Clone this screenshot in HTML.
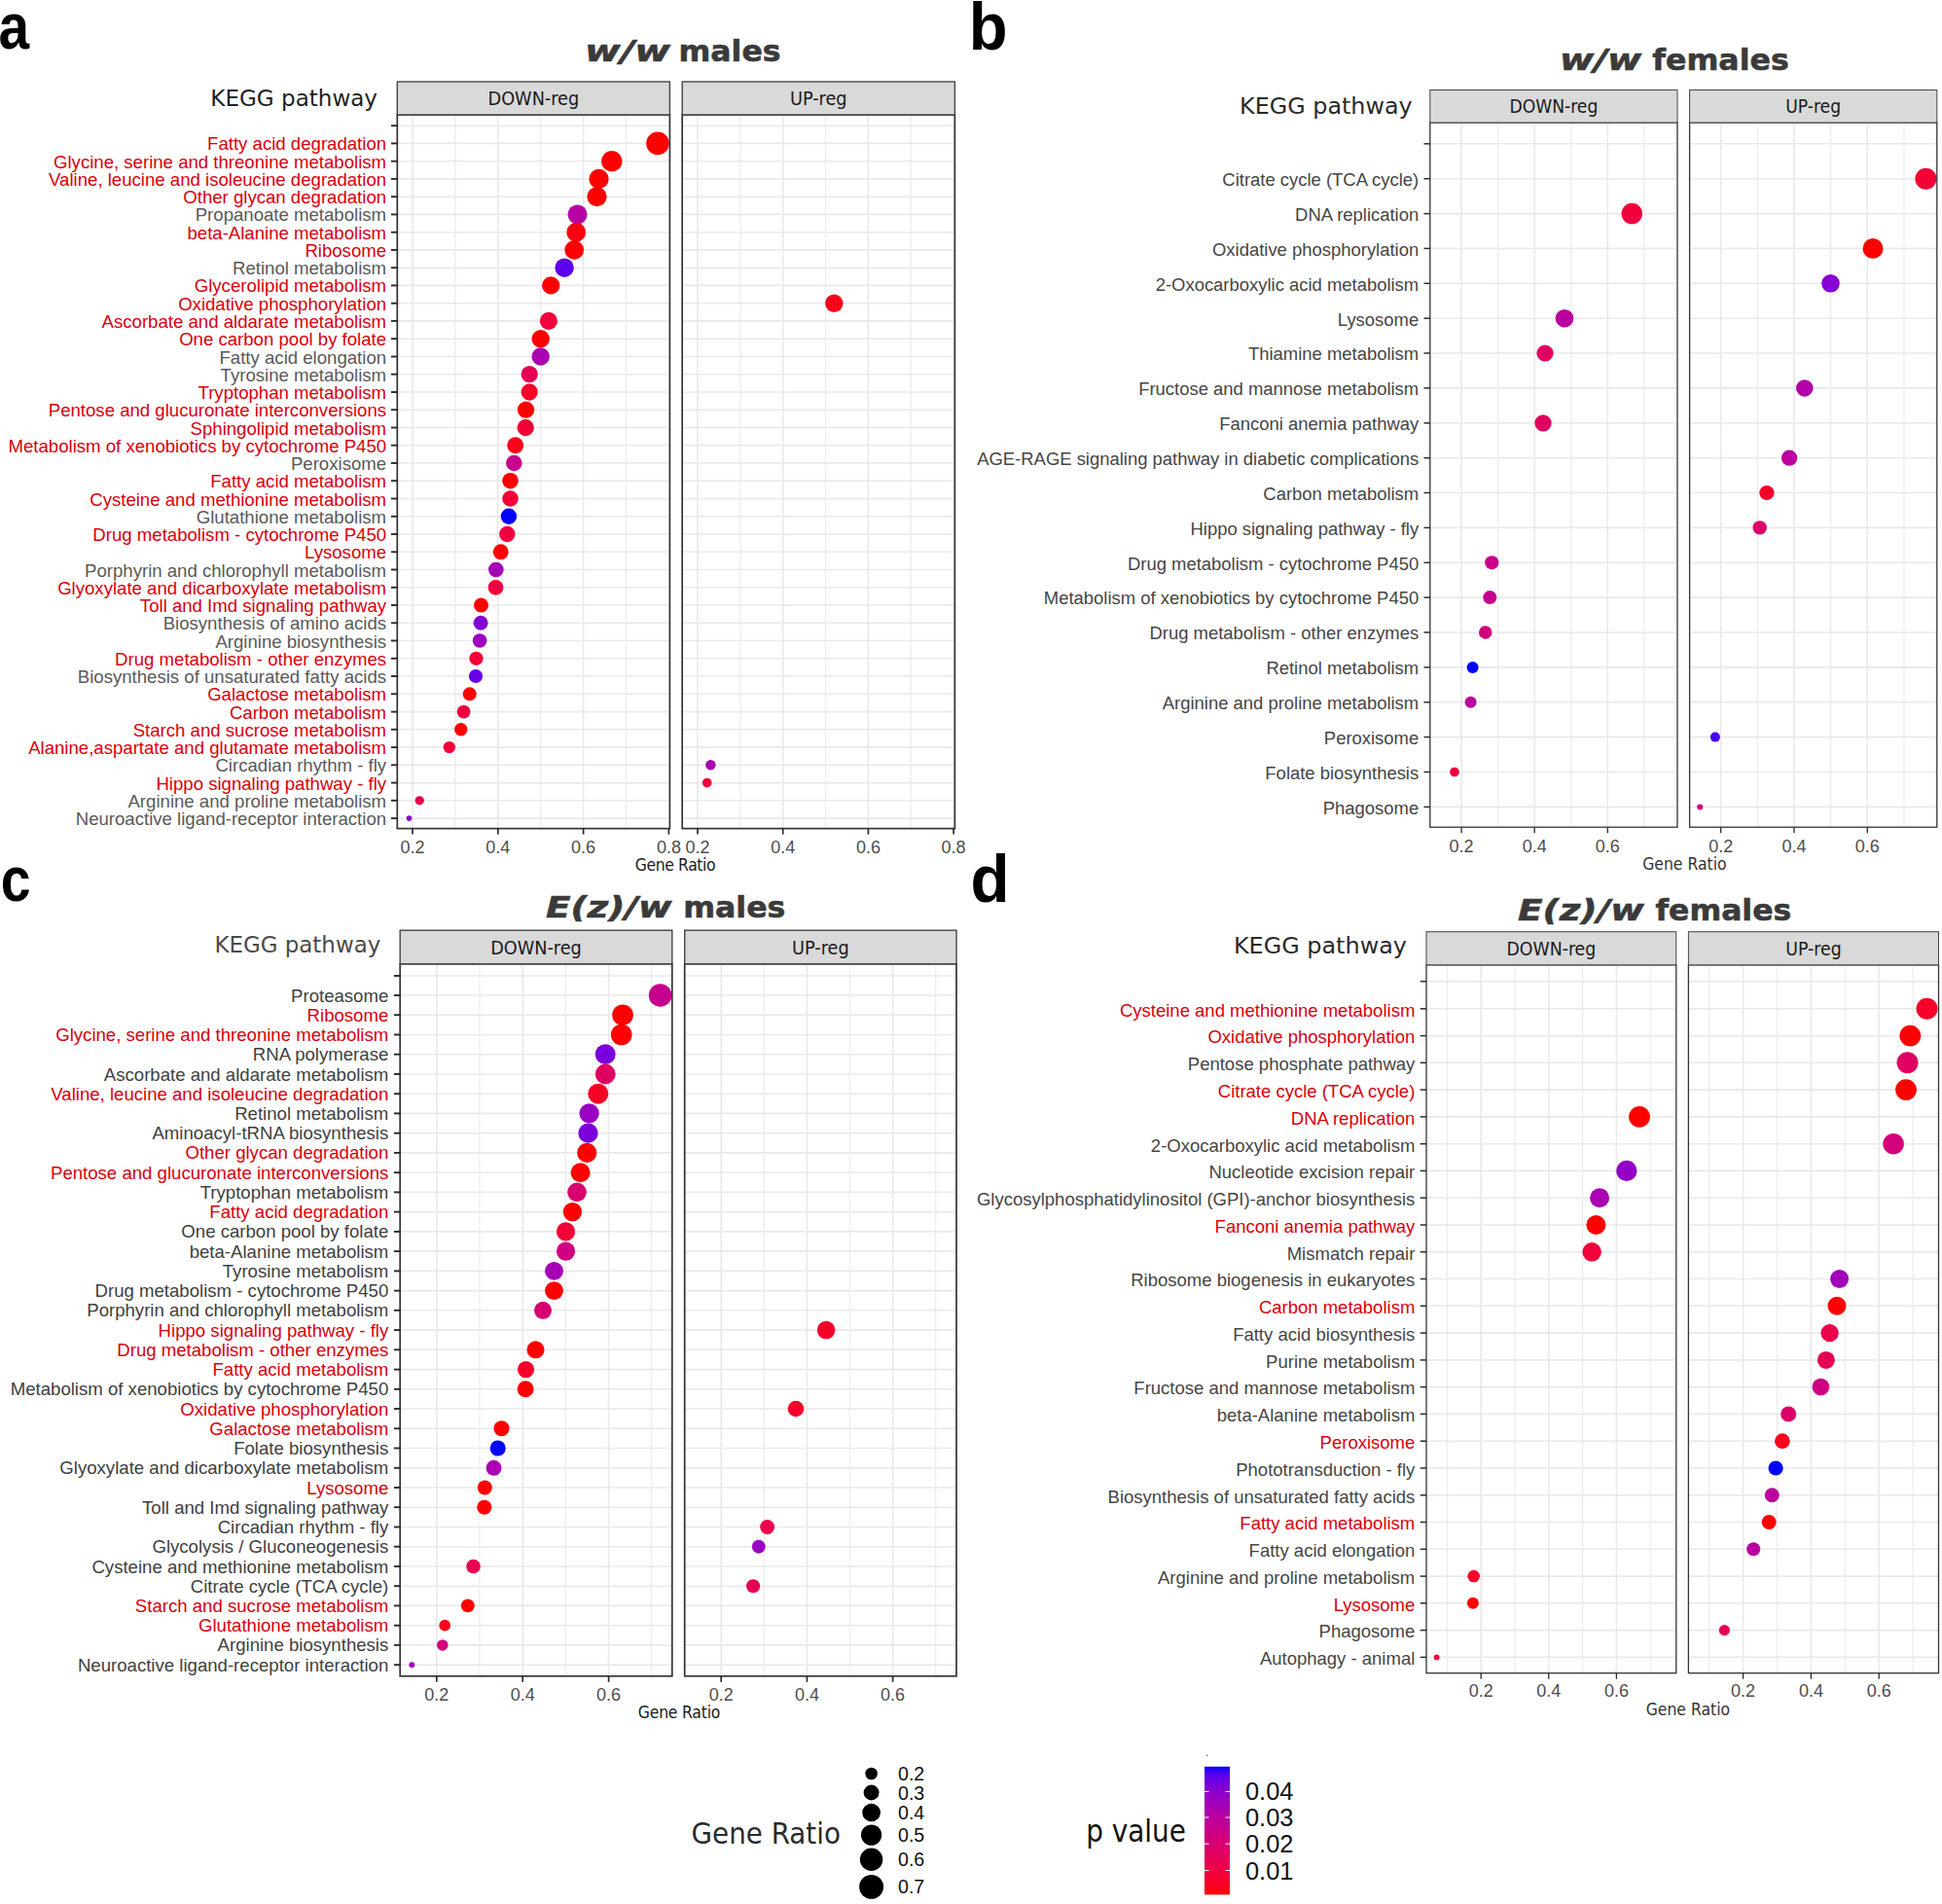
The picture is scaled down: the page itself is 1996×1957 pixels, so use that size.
<!DOCTYPE html>
<html><head><meta charset="utf-8"><title>KEGG pathway enrichment</title>
<style>html,body{margin:0;padding:0;background:#fff}svg{display:block}</style></head>
<body><svg width="1996" height="1957" viewBox="0 0 1996 1957">
<rect width="1996" height="1957" fill="#fff"/>
<rect x="408.3" y="118" width="280.1" height="733.6" fill="#fff"/>
<line x1="467.9" x2="467.9" y1="118" y2="851.6" stroke="#ececec" stroke-width="1.2"/>
<line x1="555.7" x2="555.7" y1="118" y2="851.6" stroke="#ececec" stroke-width="1.2"/>
<line x1="643.5" x2="643.5" y1="118" y2="851.6" stroke="#ececec" stroke-width="1.2"/>
<line x1="424.0" x2="424.0" y1="118" y2="851.6" stroke="#e9e9e9" stroke-width="1.6"/>
<line x1="511.8" x2="511.8" y1="118" y2="851.6" stroke="#e9e9e9" stroke-width="1.6"/>
<line x1="599.6" x2="599.6" y1="118" y2="851.6" stroke="#e9e9e9" stroke-width="1.6"/>
<line x1="408.3" x2="688.4" y1="129.2" y2="129.2" stroke="#e9e9e9" stroke-width="1.6"/>
<line x1="408.3" x2="688.4" y1="147.4" y2="147.4" stroke="#e9e9e9" stroke-width="1.6"/>
<line x1="408.3" x2="688.4" y1="165.7" y2="165.7" stroke="#e9e9e9" stroke-width="1.6"/>
<line x1="408.3" x2="688.4" y1="183.9" y2="183.9" stroke="#e9e9e9" stroke-width="1.6"/>
<line x1="408.3" x2="688.4" y1="202.2" y2="202.2" stroke="#e9e9e9" stroke-width="1.6"/>
<line x1="408.3" x2="688.4" y1="220.4" y2="220.4" stroke="#e9e9e9" stroke-width="1.6"/>
<line x1="408.3" x2="688.4" y1="238.7" y2="238.7" stroke="#e9e9e9" stroke-width="1.6"/>
<line x1="408.3" x2="688.4" y1="256.9" y2="256.9" stroke="#e9e9e9" stroke-width="1.6"/>
<line x1="408.3" x2="688.4" y1="275.2" y2="275.2" stroke="#e9e9e9" stroke-width="1.6"/>
<line x1="408.3" x2="688.4" y1="293.4" y2="293.4" stroke="#e9e9e9" stroke-width="1.6"/>
<line x1="408.3" x2="688.4" y1="311.7" y2="311.7" stroke="#e9e9e9" stroke-width="1.6"/>
<line x1="408.3" x2="688.4" y1="329.9" y2="329.9" stroke="#e9e9e9" stroke-width="1.6"/>
<line x1="408.3" x2="688.4" y1="348.2" y2="348.2" stroke="#e9e9e9" stroke-width="1.6"/>
<line x1="408.3" x2="688.4" y1="366.5" y2="366.5" stroke="#e9e9e9" stroke-width="1.6"/>
<line x1="408.3" x2="688.4" y1="384.7" y2="384.7" stroke="#e9e9e9" stroke-width="1.6"/>
<line x1="408.3" x2="688.4" y1="403.0" y2="403.0" stroke="#e9e9e9" stroke-width="1.6"/>
<line x1="408.3" x2="688.4" y1="421.2" y2="421.2" stroke="#e9e9e9" stroke-width="1.6"/>
<line x1="408.3" x2="688.4" y1="439.5" y2="439.5" stroke="#e9e9e9" stroke-width="1.6"/>
<line x1="408.3" x2="688.4" y1="457.7" y2="457.7" stroke="#e9e9e9" stroke-width="1.6"/>
<line x1="408.3" x2="688.4" y1="476.0" y2="476.0" stroke="#e9e9e9" stroke-width="1.6"/>
<line x1="408.3" x2="688.4" y1="494.2" y2="494.2" stroke="#e9e9e9" stroke-width="1.6"/>
<line x1="408.3" x2="688.4" y1="512.5" y2="512.5" stroke="#e9e9e9" stroke-width="1.6"/>
<line x1="408.3" x2="688.4" y1="530.8" y2="530.8" stroke="#e9e9e9" stroke-width="1.6"/>
<line x1="408.3" x2="688.4" y1="549.0" y2="549.0" stroke="#e9e9e9" stroke-width="1.6"/>
<line x1="408.3" x2="688.4" y1="567.3" y2="567.3" stroke="#e9e9e9" stroke-width="1.6"/>
<line x1="408.3" x2="688.4" y1="585.5" y2="585.5" stroke="#e9e9e9" stroke-width="1.6"/>
<line x1="408.3" x2="688.4" y1="603.8" y2="603.8" stroke="#e9e9e9" stroke-width="1.6"/>
<line x1="408.3" x2="688.4" y1="622.0" y2="622.0" stroke="#e9e9e9" stroke-width="1.6"/>
<line x1="408.3" x2="688.4" y1="640.3" y2="640.3" stroke="#e9e9e9" stroke-width="1.6"/>
<line x1="408.3" x2="688.4" y1="658.5" y2="658.5" stroke="#e9e9e9" stroke-width="1.6"/>
<line x1="408.3" x2="688.4" y1="676.8" y2="676.8" stroke="#e9e9e9" stroke-width="1.6"/>
<line x1="408.3" x2="688.4" y1="695.0" y2="695.0" stroke="#e9e9e9" stroke-width="1.6"/>
<line x1="408.3" x2="688.4" y1="713.3" y2="713.3" stroke="#e9e9e9" stroke-width="1.6"/>
<line x1="408.3" x2="688.4" y1="731.6" y2="731.6" stroke="#e9e9e9" stroke-width="1.6"/>
<line x1="408.3" x2="688.4" y1="749.8" y2="749.8" stroke="#e9e9e9" stroke-width="1.6"/>
<line x1="408.3" x2="688.4" y1="768.1" y2="768.1" stroke="#e9e9e9" stroke-width="1.6"/>
<line x1="408.3" x2="688.4" y1="786.3" y2="786.3" stroke="#e9e9e9" stroke-width="1.6"/>
<line x1="408.3" x2="688.4" y1="804.6" y2="804.6" stroke="#e9e9e9" stroke-width="1.6"/>
<line x1="408.3" x2="688.4" y1="822.8" y2="822.8" stroke="#e9e9e9" stroke-width="1.6"/>
<line x1="408.3" x2="688.4" y1="841.1" y2="841.1" stroke="#e9e9e9" stroke-width="1.6"/>
<rect x="701.2" y="118" width="280.2" height="733.6" fill="#fff"/>
<line x1="760.9" x2="760.9" y1="118" y2="851.6" stroke="#ececec" stroke-width="1.2"/>
<line x1="848.5" x2="848.5" y1="118" y2="851.6" stroke="#ececec" stroke-width="1.2"/>
<line x1="936.2" x2="936.2" y1="118" y2="851.6" stroke="#ececec" stroke-width="1.2"/>
<line x1="717.0" x2="717.0" y1="118" y2="851.6" stroke="#e9e9e9" stroke-width="1.6"/>
<line x1="804.7" x2="804.7" y1="118" y2="851.6" stroke="#e9e9e9" stroke-width="1.6"/>
<line x1="892.4" x2="892.4" y1="118" y2="851.6" stroke="#e9e9e9" stroke-width="1.6"/>
<line x1="980.1" x2="980.1" y1="118" y2="851.6" stroke="#e9e9e9" stroke-width="1.6"/>
<line x1="701.2" x2="981.4" y1="129.2" y2="129.2" stroke="#e9e9e9" stroke-width="1.6"/>
<line x1="701.2" x2="981.4" y1="147.4" y2="147.4" stroke="#e9e9e9" stroke-width="1.6"/>
<line x1="701.2" x2="981.4" y1="165.7" y2="165.7" stroke="#e9e9e9" stroke-width="1.6"/>
<line x1="701.2" x2="981.4" y1="183.9" y2="183.9" stroke="#e9e9e9" stroke-width="1.6"/>
<line x1="701.2" x2="981.4" y1="202.2" y2="202.2" stroke="#e9e9e9" stroke-width="1.6"/>
<line x1="701.2" x2="981.4" y1="220.4" y2="220.4" stroke="#e9e9e9" stroke-width="1.6"/>
<line x1="701.2" x2="981.4" y1="238.7" y2="238.7" stroke="#e9e9e9" stroke-width="1.6"/>
<line x1="701.2" x2="981.4" y1="256.9" y2="256.9" stroke="#e9e9e9" stroke-width="1.6"/>
<line x1="701.2" x2="981.4" y1="275.2" y2="275.2" stroke="#e9e9e9" stroke-width="1.6"/>
<line x1="701.2" x2="981.4" y1="293.4" y2="293.4" stroke="#e9e9e9" stroke-width="1.6"/>
<line x1="701.2" x2="981.4" y1="311.7" y2="311.7" stroke="#e9e9e9" stroke-width="1.6"/>
<line x1="701.2" x2="981.4" y1="329.9" y2="329.9" stroke="#e9e9e9" stroke-width="1.6"/>
<line x1="701.2" x2="981.4" y1="348.2" y2="348.2" stroke="#e9e9e9" stroke-width="1.6"/>
<line x1="701.2" x2="981.4" y1="366.5" y2="366.5" stroke="#e9e9e9" stroke-width="1.6"/>
<line x1="701.2" x2="981.4" y1="384.7" y2="384.7" stroke="#e9e9e9" stroke-width="1.6"/>
<line x1="701.2" x2="981.4" y1="403.0" y2="403.0" stroke="#e9e9e9" stroke-width="1.6"/>
<line x1="701.2" x2="981.4" y1="421.2" y2="421.2" stroke="#e9e9e9" stroke-width="1.6"/>
<line x1="701.2" x2="981.4" y1="439.5" y2="439.5" stroke="#e9e9e9" stroke-width="1.6"/>
<line x1="701.2" x2="981.4" y1="457.7" y2="457.7" stroke="#e9e9e9" stroke-width="1.6"/>
<line x1="701.2" x2="981.4" y1="476.0" y2="476.0" stroke="#e9e9e9" stroke-width="1.6"/>
<line x1="701.2" x2="981.4" y1="494.2" y2="494.2" stroke="#e9e9e9" stroke-width="1.6"/>
<line x1="701.2" x2="981.4" y1="512.5" y2="512.5" stroke="#e9e9e9" stroke-width="1.6"/>
<line x1="701.2" x2="981.4" y1="530.8" y2="530.8" stroke="#e9e9e9" stroke-width="1.6"/>
<line x1="701.2" x2="981.4" y1="549.0" y2="549.0" stroke="#e9e9e9" stroke-width="1.6"/>
<line x1="701.2" x2="981.4" y1="567.3" y2="567.3" stroke="#e9e9e9" stroke-width="1.6"/>
<line x1="701.2" x2="981.4" y1="585.5" y2="585.5" stroke="#e9e9e9" stroke-width="1.6"/>
<line x1="701.2" x2="981.4" y1="603.8" y2="603.8" stroke="#e9e9e9" stroke-width="1.6"/>
<line x1="701.2" x2="981.4" y1="622.0" y2="622.0" stroke="#e9e9e9" stroke-width="1.6"/>
<line x1="701.2" x2="981.4" y1="640.3" y2="640.3" stroke="#e9e9e9" stroke-width="1.6"/>
<line x1="701.2" x2="981.4" y1="658.5" y2="658.5" stroke="#e9e9e9" stroke-width="1.6"/>
<line x1="701.2" x2="981.4" y1="676.8" y2="676.8" stroke="#e9e9e9" stroke-width="1.6"/>
<line x1="701.2" x2="981.4" y1="695.0" y2="695.0" stroke="#e9e9e9" stroke-width="1.6"/>
<line x1="701.2" x2="981.4" y1="713.3" y2="713.3" stroke="#e9e9e9" stroke-width="1.6"/>
<line x1="701.2" x2="981.4" y1="731.6" y2="731.6" stroke="#e9e9e9" stroke-width="1.6"/>
<line x1="701.2" x2="981.4" y1="749.8" y2="749.8" stroke="#e9e9e9" stroke-width="1.6"/>
<line x1="701.2" x2="981.4" y1="768.1" y2="768.1" stroke="#e9e9e9" stroke-width="1.6"/>
<line x1="701.2" x2="981.4" y1="786.3" y2="786.3" stroke="#e9e9e9" stroke-width="1.6"/>
<line x1="701.2" x2="981.4" y1="804.6" y2="804.6" stroke="#e9e9e9" stroke-width="1.6"/>
<line x1="701.2" x2="981.4" y1="822.8" y2="822.8" stroke="#e9e9e9" stroke-width="1.6"/>
<line x1="701.2" x2="981.4" y1="841.1" y2="841.1" stroke="#e9e9e9" stroke-width="1.6"/>
<circle cx="676.0" cy="147.4" r="11.80" fill="#ff0000"/>
<circle cx="628.8" cy="165.7" r="10.65" fill="#ff0000"/>
<circle cx="615.5" cy="183.9" r="10.15" fill="#ff0000"/>
<circle cx="613.5" cy="202.2" r="10.10" fill="#ff0000"/>
<circle cx="593.5" cy="220.4" r="10.00" fill="#b600a4"/>
<circle cx="592.2" cy="238.7" r="9.85" fill="#fc0012"/>
<circle cx="590.2" cy="256.9" r="9.85" fill="#ff0000"/>
<circle cx="580.1" cy="275.2" r="9.70" fill="#5e00eb"/>
<circle cx="566.2" cy="293.4" r="9.15" fill="#ff0000"/>
<circle cx="857.3" cy="311.7" r="9.25" fill="#fb001a"/>
<circle cx="563.9" cy="329.9" r="9.05" fill="#f0003c"/>
<circle cx="555.7" cy="348.2" r="9.15" fill="#ff0000"/>
<circle cx="555.7" cy="366.5" r="9.15" fill="#aa00b2"/>
<circle cx="544.2" cy="384.7" r="8.65" fill="#e50056"/>
<circle cx="544.2" cy="403.0" r="8.65" fill="#f6002a"/>
<circle cx="540.5" cy="421.2" r="8.60" fill="#ff0000"/>
<circle cx="540.2" cy="439.5" r="8.65" fill="#f20037"/>
<circle cx="529.7" cy="457.7" r="8.50" fill="#fb001a"/>
<circle cx="528.3" cy="476.0" r="8.25" fill="#c5008f"/>
<circle cx="524.5" cy="494.2" r="8.25" fill="#ff0000"/>
<circle cx="524.5" cy="512.5" r="8.25" fill="#f20037"/>
<circle cx="522.9" cy="530.8" r="8.20" fill="#0000ff"/>
<circle cx="521.3" cy="549.0" r="8.20" fill="#ef003f"/>
<circle cx="514.7" cy="567.3" r="7.95" fill="#ff0000"/>
<circle cx="509.8" cy="585.5" r="7.80" fill="#a600b7"/>
<circle cx="509.5" cy="603.8" r="7.85" fill="#ef003f"/>
<circle cx="494.5" cy="622.0" r="7.50" fill="#ff0000"/>
<circle cx="494.1" cy="640.3" r="7.50" fill="#8300d6"/>
<circle cx="493.1" cy="658.5" r="7.25" fill="#9d00c0"/>
<circle cx="489.5" cy="676.8" r="7.15" fill="#f20037"/>
<circle cx="489.0" cy="695.0" r="7.10" fill="#6800e7"/>
<circle cx="482.7" cy="713.3" r="6.95" fill="#ff0000"/>
<circle cx="476.6" cy="731.6" r="6.85" fill="#ef003f"/>
<circle cx="473.7" cy="749.8" r="6.70" fill="#ff0000"/>
<circle cx="461.8" cy="768.1" r="6.20" fill="#f20037"/>
<circle cx="730.4" cy="786.3" r="5.20" fill="#aa00b2"/>
<circle cx="726.7" cy="804.6" r="4.85" fill="#f0003c"/>
<circle cx="431.2" cy="822.8" r="4.65" fill="#eb0049"/>
<circle cx="420.5" cy="841.1" r="2.80" fill="#8d00ce"/>
<rect x="408.3" y="118" width="280.1" height="733.6" fill="none" stroke="#333" stroke-width="1.7"/>
<rect x="408.3" y="84" width="280.1" height="34.0" fill="#d9d9d9" stroke="#444" stroke-width="1.4"/>
<text x="548.4" y="108.0" text-anchor="middle" font-family="DejaVu Sans Condensed, DejaVu Sans, Tahoma, sans-serif" font-size="19.7" fill="#1a1a1a">DOWN-reg</text>
<line x1="424.0" x2="424.0" y1="851.6" y2="857.6" stroke="#2a2a2a" stroke-width="1.7"/>
<text x="424.0" y="876.5" text-anchor="middle" font-family="Liberation Sans, Arial, sans-serif" font-size="18" fill="#4d4d4d">0.2</text>
<line x1="511.8" x2="511.8" y1="851.6" y2="857.6" stroke="#2a2a2a" stroke-width="1.7"/>
<text x="511.8" y="876.5" text-anchor="middle" font-family="Liberation Sans, Arial, sans-serif" font-size="18" fill="#4d4d4d">0.4</text>
<line x1="599.6" x2="599.6" y1="851.6" y2="857.6" stroke="#2a2a2a" stroke-width="1.7"/>
<text x="599.6" y="876.5" text-anchor="middle" font-family="Liberation Sans, Arial, sans-serif" font-size="18" fill="#4d4d4d">0.6</text>
<line x1="687.4" x2="687.4" y1="851.6" y2="857.6" stroke="#2a2a2a" stroke-width="1.7"/>
<text x="687.4" y="876.5" text-anchor="middle" font-family="Liberation Sans, Arial, sans-serif" font-size="18" fill="#4d4d4d">0.8</text>
<rect x="701.2" y="118" width="280.2" height="733.6" fill="none" stroke="#333" stroke-width="1.7"/>
<rect x="701.2" y="84" width="280.2" height="34.0" fill="#d9d9d9" stroke="#444" stroke-width="1.4"/>
<text x="841.3" y="108.0" text-anchor="middle" font-family="DejaVu Sans Condensed, DejaVu Sans, Tahoma, sans-serif" font-size="19.7" fill="#1a1a1a">UP-reg</text>
<line x1="717.0" x2="717.0" y1="851.6" y2="857.6" stroke="#2a2a2a" stroke-width="1.7"/>
<text x="717.0" y="876.5" text-anchor="middle" font-family="Liberation Sans, Arial, sans-serif" font-size="18" fill="#4d4d4d">0.2</text>
<line x1="804.7" x2="804.7" y1="851.6" y2="857.6" stroke="#2a2a2a" stroke-width="1.7"/>
<text x="804.7" y="876.5" text-anchor="middle" font-family="Liberation Sans, Arial, sans-serif" font-size="18" fill="#4d4d4d">0.4</text>
<line x1="892.4" x2="892.4" y1="851.6" y2="857.6" stroke="#2a2a2a" stroke-width="1.7"/>
<text x="892.4" y="876.5" text-anchor="middle" font-family="Liberation Sans, Arial, sans-serif" font-size="18" fill="#4d4d4d">0.6</text>
<line x1="980.1" x2="980.1" y1="851.6" y2="857.6" stroke="#2a2a2a" stroke-width="1.7"/>
<text x="980.1" y="876.5" text-anchor="middle" font-family="Liberation Sans, Arial, sans-serif" font-size="18" fill="#4d4d4d">0.8</text>
<line x1="402.0" x2="408.3" y1="129.2" y2="129.2" stroke="#2a2a2a" stroke-width="1.9"/>
<line x1="402.0" x2="408.3" y1="147.4" y2="147.4" stroke="#2a2a2a" stroke-width="1.9"/>
<line x1="402.0" x2="408.3" y1="165.7" y2="165.7" stroke="#2a2a2a" stroke-width="1.9"/>
<line x1="402.0" x2="408.3" y1="183.9" y2="183.9" stroke="#2a2a2a" stroke-width="1.9"/>
<line x1="402.0" x2="408.3" y1="202.2" y2="202.2" stroke="#2a2a2a" stroke-width="1.9"/>
<line x1="402.0" x2="408.3" y1="220.4" y2="220.4" stroke="#2a2a2a" stroke-width="1.9"/>
<line x1="402.0" x2="408.3" y1="238.7" y2="238.7" stroke="#2a2a2a" stroke-width="1.9"/>
<line x1="402.0" x2="408.3" y1="256.9" y2="256.9" stroke="#2a2a2a" stroke-width="1.9"/>
<line x1="402.0" x2="408.3" y1="275.2" y2="275.2" stroke="#2a2a2a" stroke-width="1.9"/>
<line x1="402.0" x2="408.3" y1="293.4" y2="293.4" stroke="#2a2a2a" stroke-width="1.9"/>
<line x1="402.0" x2="408.3" y1="311.7" y2="311.7" stroke="#2a2a2a" stroke-width="1.9"/>
<line x1="402.0" x2="408.3" y1="329.9" y2="329.9" stroke="#2a2a2a" stroke-width="1.9"/>
<line x1="402.0" x2="408.3" y1="348.2" y2="348.2" stroke="#2a2a2a" stroke-width="1.9"/>
<line x1="402.0" x2="408.3" y1="366.5" y2="366.5" stroke="#2a2a2a" stroke-width="1.9"/>
<line x1="402.0" x2="408.3" y1="384.7" y2="384.7" stroke="#2a2a2a" stroke-width="1.9"/>
<line x1="402.0" x2="408.3" y1="403.0" y2="403.0" stroke="#2a2a2a" stroke-width="1.9"/>
<line x1="402.0" x2="408.3" y1="421.2" y2="421.2" stroke="#2a2a2a" stroke-width="1.9"/>
<line x1="402.0" x2="408.3" y1="439.5" y2="439.5" stroke="#2a2a2a" stroke-width="1.9"/>
<line x1="402.0" x2="408.3" y1="457.7" y2="457.7" stroke="#2a2a2a" stroke-width="1.9"/>
<line x1="402.0" x2="408.3" y1="476.0" y2="476.0" stroke="#2a2a2a" stroke-width="1.9"/>
<line x1="402.0" x2="408.3" y1="494.2" y2="494.2" stroke="#2a2a2a" stroke-width="1.9"/>
<line x1="402.0" x2="408.3" y1="512.5" y2="512.5" stroke="#2a2a2a" stroke-width="1.9"/>
<line x1="402.0" x2="408.3" y1="530.8" y2="530.8" stroke="#2a2a2a" stroke-width="1.9"/>
<line x1="402.0" x2="408.3" y1="549.0" y2="549.0" stroke="#2a2a2a" stroke-width="1.9"/>
<line x1="402.0" x2="408.3" y1="567.3" y2="567.3" stroke="#2a2a2a" stroke-width="1.9"/>
<line x1="402.0" x2="408.3" y1="585.5" y2="585.5" stroke="#2a2a2a" stroke-width="1.9"/>
<line x1="402.0" x2="408.3" y1="603.8" y2="603.8" stroke="#2a2a2a" stroke-width="1.9"/>
<line x1="402.0" x2="408.3" y1="622.0" y2="622.0" stroke="#2a2a2a" stroke-width="1.9"/>
<line x1="402.0" x2="408.3" y1="640.3" y2="640.3" stroke="#2a2a2a" stroke-width="1.9"/>
<line x1="402.0" x2="408.3" y1="658.5" y2="658.5" stroke="#2a2a2a" stroke-width="1.9"/>
<line x1="402.0" x2="408.3" y1="676.8" y2="676.8" stroke="#2a2a2a" stroke-width="1.9"/>
<line x1="402.0" x2="408.3" y1="695.0" y2="695.0" stroke="#2a2a2a" stroke-width="1.9"/>
<line x1="402.0" x2="408.3" y1="713.3" y2="713.3" stroke="#2a2a2a" stroke-width="1.9"/>
<line x1="402.0" x2="408.3" y1="731.6" y2="731.6" stroke="#2a2a2a" stroke-width="1.9"/>
<line x1="402.0" x2="408.3" y1="749.8" y2="749.8" stroke="#2a2a2a" stroke-width="1.9"/>
<line x1="402.0" x2="408.3" y1="768.1" y2="768.1" stroke="#2a2a2a" stroke-width="1.9"/>
<line x1="402.0" x2="408.3" y1="786.3" y2="786.3" stroke="#2a2a2a" stroke-width="1.9"/>
<line x1="402.0" x2="408.3" y1="804.6" y2="804.6" stroke="#2a2a2a" stroke-width="1.9"/>
<line x1="402.0" x2="408.3" y1="822.8" y2="822.8" stroke="#2a2a2a" stroke-width="1.9"/>
<line x1="402.0" x2="408.3" y1="841.1" y2="841.1" stroke="#2a2a2a" stroke-width="1.9"/>
<text x="397.1" y="154.4" text-anchor="end" font-family="Liberation Sans, Arial, sans-serif" font-size="18.6" fill="#d9000d">Fatty acid degradation</text>
<text x="397.1" y="172.7" text-anchor="end" font-family="Liberation Sans, Arial, sans-serif" font-size="18.6" fill="#d9000d">Glycine, serine and threonine metabolism</text>
<text x="397.1" y="190.9" text-anchor="end" font-family="Liberation Sans, Arial, sans-serif" font-size="18.6" fill="#d9000d">Valine, leucine and isoleucine degradation</text>
<text x="397.1" y="209.2" text-anchor="end" font-family="Liberation Sans, Arial, sans-serif" font-size="18.6" fill="#d9000d">Other glycan degradation</text>
<text x="397.1" y="227.4" text-anchor="end" font-family="Liberation Sans, Arial, sans-serif" font-size="18.6" fill="#595959">Propanoate metabolism</text>
<text x="397.1" y="245.7" text-anchor="end" font-family="Liberation Sans, Arial, sans-serif" font-size="18.6" fill="#d9000d">beta-Alanine metabolism</text>
<text x="397.1" y="263.9" text-anchor="end" font-family="Liberation Sans, Arial, sans-serif" font-size="18.6" fill="#d9000d">Ribosome</text>
<text x="397.1" y="282.2" text-anchor="end" font-family="Liberation Sans, Arial, sans-serif" font-size="18.6" fill="#595959">Retinol metabolism</text>
<text x="397.1" y="300.4" text-anchor="end" font-family="Liberation Sans, Arial, sans-serif" font-size="18.6" fill="#d9000d">Glycerolipid metabolism</text>
<text x="397.1" y="318.7" text-anchor="end" font-family="Liberation Sans, Arial, sans-serif" font-size="18.6" fill="#d9000d">Oxidative phosphorylation</text>
<text x="397.1" y="336.9" text-anchor="end" font-family="Liberation Sans, Arial, sans-serif" font-size="18.6" fill="#d9000d">Ascorbate and aldarate metabolism</text>
<text x="397.1" y="355.2" text-anchor="end" font-family="Liberation Sans, Arial, sans-serif" font-size="18.6" fill="#d9000d">One carbon pool by folate</text>
<text x="397.1" y="373.5" text-anchor="end" font-family="Liberation Sans, Arial, sans-serif" font-size="18.6" fill="#595959">Fatty acid elongation</text>
<text x="397.1" y="391.7" text-anchor="end" font-family="Liberation Sans, Arial, sans-serif" font-size="18.6" fill="#595959">Tyrosine metabolism</text>
<text x="397.1" y="410.0" text-anchor="end" font-family="Liberation Sans, Arial, sans-serif" font-size="18.6" fill="#d9000d">Tryptophan metabolism</text>
<text x="397.1" y="428.2" text-anchor="end" font-family="Liberation Sans, Arial, sans-serif" font-size="18.6" fill="#d9000d">Pentose and glucuronate interconversions</text>
<text x="397.1" y="446.5" text-anchor="end" font-family="Liberation Sans, Arial, sans-serif" font-size="18.6" fill="#d9000d">Sphingolipid metabolism</text>
<text x="397.1" y="464.7" text-anchor="end" font-family="Liberation Sans, Arial, sans-serif" font-size="18.6" fill="#d9000d">Metabolism of xenobiotics by cytochrome P450</text>
<text x="397.1" y="483.0" text-anchor="end" font-family="Liberation Sans, Arial, sans-serif" font-size="18.6" fill="#595959">Peroxisome</text>
<text x="397.1" y="501.2" text-anchor="end" font-family="Liberation Sans, Arial, sans-serif" font-size="18.6" fill="#d9000d">Fatty acid metabolism</text>
<text x="397.1" y="519.5" text-anchor="end" font-family="Liberation Sans, Arial, sans-serif" font-size="18.6" fill="#d9000d">Cysteine and methionine metabolism</text>
<text x="397.1" y="537.8" text-anchor="end" font-family="Liberation Sans, Arial, sans-serif" font-size="18.6" fill="#595959">Glutathione metabolism</text>
<text x="397.1" y="556.0" text-anchor="end" font-family="Liberation Sans, Arial, sans-serif" font-size="18.6" fill="#d9000d">Drug metabolism - cytochrome P450</text>
<text x="397.1" y="574.3" text-anchor="end" font-family="Liberation Sans, Arial, sans-serif" font-size="18.6" fill="#d9000d">Lysosome</text>
<text x="397.1" y="592.5" text-anchor="end" font-family="Liberation Sans, Arial, sans-serif" font-size="18.6" fill="#595959">Porphyrin and chlorophyll metabolism</text>
<text x="397.1" y="610.8" text-anchor="end" font-family="Liberation Sans, Arial, sans-serif" font-size="18.6" fill="#d9000d">Glyoxylate and dicarboxylate metabolism</text>
<text x="397.1" y="629.0" text-anchor="end" font-family="Liberation Sans, Arial, sans-serif" font-size="18.6" fill="#d9000d">Toll and Imd signaling pathway</text>
<text x="397.1" y="647.3" text-anchor="end" font-family="Liberation Sans, Arial, sans-serif" font-size="18.6" fill="#595959">Biosynthesis of amino acids</text>
<text x="397.1" y="665.5" text-anchor="end" font-family="Liberation Sans, Arial, sans-serif" font-size="18.6" fill="#595959">Arginine biosynthesis</text>
<text x="397.1" y="683.8" text-anchor="end" font-family="Liberation Sans, Arial, sans-serif" font-size="18.6" fill="#d9000d">Drug metabolism - other enzymes</text>
<text x="397.1" y="702.0" text-anchor="end" font-family="Liberation Sans, Arial, sans-serif" font-size="18.6" fill="#595959">Biosynthesis of unsaturated fatty acids</text>
<text x="397.1" y="720.3" text-anchor="end" font-family="Liberation Sans, Arial, sans-serif" font-size="18.6" fill="#d9000d">Galactose metabolism</text>
<text x="397.1" y="738.6" text-anchor="end" font-family="Liberation Sans, Arial, sans-serif" font-size="18.6" fill="#d9000d">Carbon metabolism</text>
<text x="397.1" y="756.8" text-anchor="end" font-family="Liberation Sans, Arial, sans-serif" font-size="18.6" fill="#d9000d">Starch and sucrose metabolism</text>
<text x="397.1" y="775.1" text-anchor="end" font-family="Liberation Sans, Arial, sans-serif" font-size="18.6" fill="#d9000d">Alanine,aspartate and glutamate metabolism</text>
<text x="397.1" y="793.3" text-anchor="end" font-family="Liberation Sans, Arial, sans-serif" font-size="18.6" fill="#595959">Circadian rhythm - fly</text>
<text x="397.1" y="811.6" text-anchor="end" font-family="Liberation Sans, Arial, sans-serif" font-size="18.6" fill="#d9000d">Hippo signaling pathway - fly</text>
<text x="397.1" y="829.8" text-anchor="end" font-family="Liberation Sans, Arial, sans-serif" font-size="18.6" fill="#595959">Arginine and proline metabolism</text>
<text x="397.1" y="848.1" text-anchor="end" font-family="Liberation Sans, Arial, sans-serif" font-size="18.6" fill="#595959">Neuroactive ligand-receptor interaction</text>
<text x="694" y="894.8" text-anchor="middle" font-family="DejaVu Sans Condensed, DejaVu Sans, Tahoma, sans-serif" font-size="17.4" fill="#1a1a1a" letter-spacing="-0.4">Gene Ratio</text>
<text x="216.3" y="109.4" font-family="DejaVu Sans, Verdana, sans-serif" font-size="23" textLength="171.7" lengthAdjust="spacingAndGlyphs" fill="#1f1f1f">KEGG pathway</text>
<text x="600.9" y="62.5" font-family="DejaVu Sans, Verdana, sans-serif" font-size="31" font-weight="bold" font-style="italic" textLength="88.1" lengthAdjust="spacingAndGlyphs" fill="#3a3a3a" stroke="#3a3a3a" stroke-width="0.6">w/w</text>
<text x="697.5" y="62.5" font-family="DejaVu Sans, Verdana, sans-serif" font-size="31" font-weight="bold" textLength="105.0" lengthAdjust="spacingAndGlyphs" fill="#3a3a3a" stroke="#3a3a3a" stroke-width="0.6">males</text>
<text transform="translate(-1.4,50.3) scale(0.86,1)" x="0" y="0" font-family="Liberation Sans, Arial, sans-serif" font-size="66.1" font-weight="bold" fill="#000">a</text>
<rect x="1469.8" y="126" width="254.2" height="724.2" fill="#fff"/>
<line x1="1539.7" x2="1539.7" y1="126" y2="850.2" stroke="#ececec" stroke-width="1.2"/>
<line x1="1614.8" x2="1614.8" y1="126" y2="850.2" stroke="#ececec" stroke-width="1.2"/>
<line x1="1689.9" x2="1689.9" y1="126" y2="850.2" stroke="#ececec" stroke-width="1.2"/>
<line x1="1502.1" x2="1502.1" y1="126" y2="850.2" stroke="#e9e9e9" stroke-width="1.6"/>
<line x1="1577.2" x2="1577.2" y1="126" y2="850.2" stroke="#e9e9e9" stroke-width="1.6"/>
<line x1="1652.3" x2="1652.3" y1="126" y2="850.2" stroke="#e9e9e9" stroke-width="1.6"/>
<line x1="1469.8" x2="1724" y1="147.8" y2="147.8" stroke="#e9e9e9" stroke-width="1.6"/>
<line x1="1469.8" x2="1724" y1="183.7" y2="183.7" stroke="#e9e9e9" stroke-width="1.6"/>
<line x1="1469.8" x2="1724" y1="219.6" y2="219.6" stroke="#e9e9e9" stroke-width="1.6"/>
<line x1="1469.8" x2="1724" y1="255.4" y2="255.4" stroke="#e9e9e9" stroke-width="1.6"/>
<line x1="1469.8" x2="1724" y1="291.3" y2="291.3" stroke="#e9e9e9" stroke-width="1.6"/>
<line x1="1469.8" x2="1724" y1="327.2" y2="327.2" stroke="#e9e9e9" stroke-width="1.6"/>
<line x1="1469.8" x2="1724" y1="363.0" y2="363.0" stroke="#e9e9e9" stroke-width="1.6"/>
<line x1="1469.8" x2="1724" y1="398.9" y2="398.9" stroke="#e9e9e9" stroke-width="1.6"/>
<line x1="1469.8" x2="1724" y1="434.8" y2="434.8" stroke="#e9e9e9" stroke-width="1.6"/>
<line x1="1469.8" x2="1724" y1="470.7" y2="470.7" stroke="#e9e9e9" stroke-width="1.6"/>
<line x1="1469.8" x2="1724" y1="506.5" y2="506.5" stroke="#e9e9e9" stroke-width="1.6"/>
<line x1="1469.8" x2="1724" y1="542.4" y2="542.4" stroke="#e9e9e9" stroke-width="1.6"/>
<line x1="1469.8" x2="1724" y1="578.3" y2="578.3" stroke="#e9e9e9" stroke-width="1.6"/>
<line x1="1469.8" x2="1724" y1="614.1" y2="614.1" stroke="#e9e9e9" stroke-width="1.6"/>
<line x1="1469.8" x2="1724" y1="650.0" y2="650.0" stroke="#e9e9e9" stroke-width="1.6"/>
<line x1="1469.8" x2="1724" y1="685.9" y2="685.9" stroke="#e9e9e9" stroke-width="1.6"/>
<line x1="1469.8" x2="1724" y1="721.8" y2="721.8" stroke="#e9e9e9" stroke-width="1.6"/>
<line x1="1469.8" x2="1724" y1="757.6" y2="757.6" stroke="#e9e9e9" stroke-width="1.6"/>
<line x1="1469.8" x2="1724" y1="793.5" y2="793.5" stroke="#e9e9e9" stroke-width="1.6"/>
<line x1="1469.8" x2="1724" y1="829.4" y2="829.4" stroke="#e9e9e9" stroke-width="1.6"/>
<rect x="1736.6" y="126" width="254.2" height="724.2" fill="#fff"/>
<line x1="1806.4" x2="1806.4" y1="126" y2="850.2" stroke="#ececec" stroke-width="1.2"/>
<line x1="1881.7" x2="1881.7" y1="126" y2="850.2" stroke="#ececec" stroke-width="1.2"/>
<line x1="1957.0" x2="1957.0" y1="126" y2="850.2" stroke="#ececec" stroke-width="1.2"/>
<line x1="1768.7" x2="1768.7" y1="126" y2="850.2" stroke="#e9e9e9" stroke-width="1.6"/>
<line x1="1844.0" x2="1844.0" y1="126" y2="850.2" stroke="#e9e9e9" stroke-width="1.6"/>
<line x1="1919.3" x2="1919.3" y1="126" y2="850.2" stroke="#e9e9e9" stroke-width="1.6"/>
<line x1="1736.6" x2="1990.8" y1="147.8" y2="147.8" stroke="#e9e9e9" stroke-width="1.6"/>
<line x1="1736.6" x2="1990.8" y1="183.7" y2="183.7" stroke="#e9e9e9" stroke-width="1.6"/>
<line x1="1736.6" x2="1990.8" y1="219.6" y2="219.6" stroke="#e9e9e9" stroke-width="1.6"/>
<line x1="1736.6" x2="1990.8" y1="255.4" y2="255.4" stroke="#e9e9e9" stroke-width="1.6"/>
<line x1="1736.6" x2="1990.8" y1="291.3" y2="291.3" stroke="#e9e9e9" stroke-width="1.6"/>
<line x1="1736.6" x2="1990.8" y1="327.2" y2="327.2" stroke="#e9e9e9" stroke-width="1.6"/>
<line x1="1736.6" x2="1990.8" y1="363.0" y2="363.0" stroke="#e9e9e9" stroke-width="1.6"/>
<line x1="1736.6" x2="1990.8" y1="398.9" y2="398.9" stroke="#e9e9e9" stroke-width="1.6"/>
<line x1="1736.6" x2="1990.8" y1="434.8" y2="434.8" stroke="#e9e9e9" stroke-width="1.6"/>
<line x1="1736.6" x2="1990.8" y1="470.7" y2="470.7" stroke="#e9e9e9" stroke-width="1.6"/>
<line x1="1736.6" x2="1990.8" y1="506.5" y2="506.5" stroke="#e9e9e9" stroke-width="1.6"/>
<line x1="1736.6" x2="1990.8" y1="542.4" y2="542.4" stroke="#e9e9e9" stroke-width="1.6"/>
<line x1="1736.6" x2="1990.8" y1="578.3" y2="578.3" stroke="#e9e9e9" stroke-width="1.6"/>
<line x1="1736.6" x2="1990.8" y1="614.1" y2="614.1" stroke="#e9e9e9" stroke-width="1.6"/>
<line x1="1736.6" x2="1990.8" y1="650.0" y2="650.0" stroke="#e9e9e9" stroke-width="1.6"/>
<line x1="1736.6" x2="1990.8" y1="685.9" y2="685.9" stroke="#e9e9e9" stroke-width="1.6"/>
<line x1="1736.6" x2="1990.8" y1="721.8" y2="721.8" stroke="#e9e9e9" stroke-width="1.6"/>
<line x1="1736.6" x2="1990.8" y1="757.6" y2="757.6" stroke="#e9e9e9" stroke-width="1.6"/>
<line x1="1736.6" x2="1990.8" y1="793.5" y2="793.5" stroke="#e9e9e9" stroke-width="1.6"/>
<line x1="1736.6" x2="1990.8" y1="829.4" y2="829.4" stroke="#e9e9e9" stroke-width="1.6"/>
<circle cx="1979.4" cy="183.7" r="11.00" fill="#f20037"/>
<circle cx="1677.3" cy="219.6" r="10.75" fill="#f0003c"/>
<circle cx="1925" cy="255.4" r="10.45" fill="#ff0000"/>
<circle cx="1881.5" cy="291.3" r="9.30" fill="#8700d3"/>
<circle cx="1608" cy="327.2" r="9.30" fill="#ba009f"/>
<circle cx="1588" cy="363.0" r="8.60" fill="#e00060"/>
<circle cx="1854.8" cy="398.9" r="8.75" fill="#b200a9"/>
<circle cx="1586" cy="434.8" r="8.60" fill="#e00060"/>
<circle cx="1839.1" cy="470.7" r="8.15" fill="#ba009f"/>
<circle cx="1815.9" cy="506.5" r="7.60" fill="#f6002a"/>
<circle cx="1808.7" cy="542.4" r="7.15" fill="#dc0069"/>
<circle cx="1533.3" cy="578.3" r="7.15" fill="#ca0088"/>
<circle cx="1531.3" cy="614.1" r="7.00" fill="#c5008f"/>
<circle cx="1526.7" cy="650.0" r="6.75" fill="#d30079"/>
<circle cx="1513.6" cy="685.9" r="6.00" fill="#0000ff"/>
<circle cx="1511.6" cy="721.8" r="6.00" fill="#ba009f"/>
<circle cx="1762.9" cy="757.6" r="5.00" fill="#4b00f3"/>
<circle cx="1495" cy="793.5" r="4.85" fill="#ef003f"/>
<circle cx="1747.2" cy="829.4" r="3.00" fill="#cc0084"/>
<rect x="1469.8" y="126" width="254.2" height="724.2" fill="none" stroke="#333" stroke-width="1.3"/>
<rect x="1469.8" y="92.5" width="254.2" height="33.5" fill="#d9d9d9" stroke="#444" stroke-width="1.0"/>
<text x="1596.9" y="116.2" text-anchor="middle" font-family="DejaVu Sans Condensed, DejaVu Sans, Tahoma, sans-serif" font-size="19.1" fill="#1a1a1a">DOWN-reg</text>
<line x1="1502.1" x2="1502.1" y1="850.2" y2="856.2" stroke="#2a2a2a" stroke-width="1.3"/>
<text x="1502.1" y="875.8" text-anchor="middle" font-family="Liberation Sans, Arial, sans-serif" font-size="18" fill="#4d4d4d">0.2</text>
<line x1="1577.2" x2="1577.2" y1="850.2" y2="856.2" stroke="#2a2a2a" stroke-width="1.3"/>
<text x="1577.2" y="875.8" text-anchor="middle" font-family="Liberation Sans, Arial, sans-serif" font-size="18" fill="#4d4d4d">0.4</text>
<line x1="1652.3" x2="1652.3" y1="850.2" y2="856.2" stroke="#2a2a2a" stroke-width="1.3"/>
<text x="1652.3" y="875.8" text-anchor="middle" font-family="Liberation Sans, Arial, sans-serif" font-size="18" fill="#4d4d4d">0.6</text>
<rect x="1736.6" y="126" width="254.2" height="724.2" fill="none" stroke="#333" stroke-width="1.3"/>
<rect x="1736.6" y="92.5" width="254.2" height="33.5" fill="#d9d9d9" stroke="#444" stroke-width="1.0"/>
<text x="1863.7" y="116.2" text-anchor="middle" font-family="DejaVu Sans Condensed, DejaVu Sans, Tahoma, sans-serif" font-size="19.1" fill="#1a1a1a">UP-reg</text>
<line x1="1768.7" x2="1768.7" y1="850.2" y2="856.2" stroke="#2a2a2a" stroke-width="1.3"/>
<text x="1768.7" y="875.8" text-anchor="middle" font-family="Liberation Sans, Arial, sans-serif" font-size="18" fill="#4d4d4d">0.2</text>
<line x1="1844.0" x2="1844.0" y1="850.2" y2="856.2" stroke="#2a2a2a" stroke-width="1.3"/>
<text x="1844.0" y="875.8" text-anchor="middle" font-family="Liberation Sans, Arial, sans-serif" font-size="18" fill="#4d4d4d">0.4</text>
<line x1="1919.3" x2="1919.3" y1="850.2" y2="856.2" stroke="#2a2a2a" stroke-width="1.3"/>
<text x="1919.3" y="875.8" text-anchor="middle" font-family="Liberation Sans, Arial, sans-serif" font-size="18" fill="#4d4d4d">0.6</text>
<line x1="1463.5" x2="1469.8" y1="147.8" y2="147.8" stroke="#2a2a2a" stroke-width="1.5"/>
<line x1="1463.5" x2="1469.8" y1="183.7" y2="183.7" stroke="#2a2a2a" stroke-width="1.5"/>
<line x1="1463.5" x2="1469.8" y1="219.6" y2="219.6" stroke="#2a2a2a" stroke-width="1.5"/>
<line x1="1463.5" x2="1469.8" y1="255.4" y2="255.4" stroke="#2a2a2a" stroke-width="1.5"/>
<line x1="1463.5" x2="1469.8" y1="291.3" y2="291.3" stroke="#2a2a2a" stroke-width="1.5"/>
<line x1="1463.5" x2="1469.8" y1="327.2" y2="327.2" stroke="#2a2a2a" stroke-width="1.5"/>
<line x1="1463.5" x2="1469.8" y1="363.0" y2="363.0" stroke="#2a2a2a" stroke-width="1.5"/>
<line x1="1463.5" x2="1469.8" y1="398.9" y2="398.9" stroke="#2a2a2a" stroke-width="1.5"/>
<line x1="1463.5" x2="1469.8" y1="434.8" y2="434.8" stroke="#2a2a2a" stroke-width="1.5"/>
<line x1="1463.5" x2="1469.8" y1="470.7" y2="470.7" stroke="#2a2a2a" stroke-width="1.5"/>
<line x1="1463.5" x2="1469.8" y1="506.5" y2="506.5" stroke="#2a2a2a" stroke-width="1.5"/>
<line x1="1463.5" x2="1469.8" y1="542.4" y2="542.4" stroke="#2a2a2a" stroke-width="1.5"/>
<line x1="1463.5" x2="1469.8" y1="578.3" y2="578.3" stroke="#2a2a2a" stroke-width="1.5"/>
<line x1="1463.5" x2="1469.8" y1="614.1" y2="614.1" stroke="#2a2a2a" stroke-width="1.5"/>
<line x1="1463.5" x2="1469.8" y1="650.0" y2="650.0" stroke="#2a2a2a" stroke-width="1.5"/>
<line x1="1463.5" x2="1469.8" y1="685.9" y2="685.9" stroke="#2a2a2a" stroke-width="1.5"/>
<line x1="1463.5" x2="1469.8" y1="721.8" y2="721.8" stroke="#2a2a2a" stroke-width="1.5"/>
<line x1="1463.5" x2="1469.8" y1="757.6" y2="757.6" stroke="#2a2a2a" stroke-width="1.5"/>
<line x1="1463.5" x2="1469.8" y1="793.5" y2="793.5" stroke="#2a2a2a" stroke-width="1.5"/>
<line x1="1463.5" x2="1469.8" y1="829.4" y2="829.4" stroke="#2a2a2a" stroke-width="1.5"/>
<text x="1458.2" y="191.0" text-anchor="end" font-family="Liberation Sans, Arial, sans-serif" font-size="18.45" fill="#454545">Citrate cycle (TCA cycle)</text>
<text x="1458.2" y="226.9" text-anchor="end" font-family="Liberation Sans, Arial, sans-serif" font-size="18.45" fill="#454545">DNA replication</text>
<text x="1458.2" y="262.7" text-anchor="end" font-family="Liberation Sans, Arial, sans-serif" font-size="18.45" fill="#454545">Oxidative phosphorylation</text>
<text x="1458.2" y="298.6" text-anchor="end" font-family="Liberation Sans, Arial, sans-serif" font-size="18.45" fill="#454545">2-Oxocarboxylic acid metabolism</text>
<text x="1458.2" y="334.5" text-anchor="end" font-family="Liberation Sans, Arial, sans-serif" font-size="18.45" fill="#454545">Lysosome</text>
<text x="1458.2" y="370.3" text-anchor="end" font-family="Liberation Sans, Arial, sans-serif" font-size="18.45" fill="#454545">Thiamine metabolism</text>
<text x="1458.2" y="406.2" text-anchor="end" font-family="Liberation Sans, Arial, sans-serif" font-size="18.45" fill="#454545">Fructose and mannose metabolism</text>
<text x="1458.2" y="442.1" text-anchor="end" font-family="Liberation Sans, Arial, sans-serif" font-size="18.45" fill="#454545">Fanconi anemia pathway</text>
<text x="1458.2" y="478.0" text-anchor="end" font-family="Liberation Sans, Arial, sans-serif" font-size="18.45" fill="#454545">AGE-RAGE signaling pathway in diabetic complications</text>
<text x="1458.2" y="513.8" text-anchor="end" font-family="Liberation Sans, Arial, sans-serif" font-size="18.45" fill="#454545">Carbon metabolism</text>
<text x="1458.2" y="549.7" text-anchor="end" font-family="Liberation Sans, Arial, sans-serif" font-size="18.45" fill="#454545">Hippo signaling pathway - fly</text>
<text x="1458.2" y="585.6" text-anchor="end" font-family="Liberation Sans, Arial, sans-serif" font-size="18.45" fill="#454545">Drug metabolism - cytochrome P450</text>
<text x="1458.2" y="621.4" text-anchor="end" font-family="Liberation Sans, Arial, sans-serif" font-size="18.45" fill="#454545">Metabolism of xenobiotics by cytochrome P450</text>
<text x="1458.2" y="657.3" text-anchor="end" font-family="Liberation Sans, Arial, sans-serif" font-size="18.45" fill="#454545">Drug metabolism - other enzymes</text>
<text x="1458.2" y="693.2" text-anchor="end" font-family="Liberation Sans, Arial, sans-serif" font-size="18.45" fill="#454545">Retinol metabolism</text>
<text x="1458.2" y="729.0" text-anchor="end" font-family="Liberation Sans, Arial, sans-serif" font-size="18.45" fill="#454545">Arginine and proline metabolism</text>
<text x="1458.2" y="764.9" text-anchor="end" font-family="Liberation Sans, Arial, sans-serif" font-size="18.45" fill="#454545">Peroxisome</text>
<text x="1458.2" y="800.8" text-anchor="end" font-family="Liberation Sans, Arial, sans-serif" font-size="18.45" fill="#454545">Folate biosynthesis</text>
<text x="1458.2" y="836.7" text-anchor="end" font-family="Liberation Sans, Arial, sans-serif" font-size="18.45" fill="#454545">Phagosome</text>
<text x="1731.4" y="894.2" text-anchor="middle" font-family="DejaVu Sans Condensed, DejaVu Sans, Tahoma, sans-serif" font-size="17.4" fill="#333">Gene Ratio</text>
<text x="1274" y="117.4" font-family="DejaVu Sans, Verdana, sans-serif" font-size="23.8" textLength="177.7" lengthAdjust="spacingAndGlyphs" fill="#2a2a2a">KEGG pathway</text>
<text x="1602.9" y="72" font-family="DejaVu Sans, Verdana, sans-serif" font-size="31" font-weight="bold" font-style="italic" textLength="84.5" lengthAdjust="spacingAndGlyphs" fill="#3a3a3a" stroke="#3a3a3a" stroke-width="0.6">w/w</text>
<text x="1698.2" y="72" font-family="DejaVu Sans, Verdana, sans-serif" font-size="31" font-weight="bold" textLength="140.6" lengthAdjust="spacingAndGlyphs" fill="#3a3a3a" stroke="#3a3a3a" stroke-width="0.6">females</text>
<text transform="translate(995.7,51.1) scale(0.94,1)" x="0" y="0" font-family="Liberation Sans, Arial, sans-serif" font-size="69.3" font-weight="bold" fill="#000">b</text>
<rect x="411.2" y="990.7" width="279.6" height="732.1" fill="#fff"/>
<line x1="493.0" x2="493.0" y1="990.7" y2="1722.8" stroke="#ececec" stroke-width="1.2"/>
<line x1="581.4" x2="581.4" y1="990.7" y2="1722.8" stroke="#ececec" stroke-width="1.2"/>
<line x1="669.8" x2="669.8" y1="990.7" y2="1722.8" stroke="#ececec" stroke-width="1.2"/>
<line x1="448.8" x2="448.8" y1="990.7" y2="1722.8" stroke="#e9e9e9" stroke-width="1.6"/>
<line x1="537.2" x2="537.2" y1="990.7" y2="1722.8" stroke="#e9e9e9" stroke-width="1.6"/>
<line x1="625.6" x2="625.6" y1="990.7" y2="1722.8" stroke="#e9e9e9" stroke-width="1.6"/>
<line x1="411.2" x2="690.8" y1="1003.0" y2="1003.0" stroke="#e9e9e9" stroke-width="1.6"/>
<line x1="411.2" x2="690.8" y1="1023.0" y2="1023.0" stroke="#e9e9e9" stroke-width="1.6"/>
<line x1="411.2" x2="690.8" y1="1043.2" y2="1043.2" stroke="#e9e9e9" stroke-width="1.6"/>
<line x1="411.2" x2="690.8" y1="1063.5" y2="1063.5" stroke="#e9e9e9" stroke-width="1.6"/>
<line x1="411.2" x2="690.8" y1="1083.7" y2="1083.7" stroke="#e9e9e9" stroke-width="1.6"/>
<line x1="411.2" x2="690.8" y1="1104.0" y2="1104.0" stroke="#e9e9e9" stroke-width="1.6"/>
<line x1="411.2" x2="690.8" y1="1124.2" y2="1124.2" stroke="#e9e9e9" stroke-width="1.6"/>
<line x1="411.2" x2="690.8" y1="1144.4" y2="1144.4" stroke="#e9e9e9" stroke-width="1.6"/>
<line x1="411.2" x2="690.8" y1="1164.7" y2="1164.7" stroke="#e9e9e9" stroke-width="1.6"/>
<line x1="411.2" x2="690.8" y1="1184.9" y2="1184.9" stroke="#e9e9e9" stroke-width="1.6"/>
<line x1="411.2" x2="690.8" y1="1205.2" y2="1205.2" stroke="#e9e9e9" stroke-width="1.6"/>
<line x1="411.2" x2="690.8" y1="1225.4" y2="1225.4" stroke="#e9e9e9" stroke-width="1.6"/>
<line x1="411.2" x2="690.8" y1="1245.6" y2="1245.6" stroke="#e9e9e9" stroke-width="1.6"/>
<line x1="411.2" x2="690.8" y1="1265.9" y2="1265.9" stroke="#e9e9e9" stroke-width="1.6"/>
<line x1="411.2" x2="690.8" y1="1286.1" y2="1286.1" stroke="#e9e9e9" stroke-width="1.6"/>
<line x1="411.2" x2="690.8" y1="1306.4" y2="1306.4" stroke="#e9e9e9" stroke-width="1.6"/>
<line x1="411.2" x2="690.8" y1="1326.6" y2="1326.6" stroke="#e9e9e9" stroke-width="1.6"/>
<line x1="411.2" x2="690.8" y1="1346.8" y2="1346.8" stroke="#e9e9e9" stroke-width="1.6"/>
<line x1="411.2" x2="690.8" y1="1367.1" y2="1367.1" stroke="#e9e9e9" stroke-width="1.6"/>
<line x1="411.2" x2="690.8" y1="1387.3" y2="1387.3" stroke="#e9e9e9" stroke-width="1.6"/>
<line x1="411.2" x2="690.8" y1="1407.6" y2="1407.6" stroke="#e9e9e9" stroke-width="1.6"/>
<line x1="411.2" x2="690.8" y1="1427.8" y2="1427.8" stroke="#e9e9e9" stroke-width="1.6"/>
<line x1="411.2" x2="690.8" y1="1448.0" y2="1448.0" stroke="#e9e9e9" stroke-width="1.6"/>
<line x1="411.2" x2="690.8" y1="1468.3" y2="1468.3" stroke="#e9e9e9" stroke-width="1.6"/>
<line x1="411.2" x2="690.8" y1="1488.5" y2="1488.5" stroke="#e9e9e9" stroke-width="1.6"/>
<line x1="411.2" x2="690.8" y1="1508.8" y2="1508.8" stroke="#e9e9e9" stroke-width="1.6"/>
<line x1="411.2" x2="690.8" y1="1529.0" y2="1529.0" stroke="#e9e9e9" stroke-width="1.6"/>
<line x1="411.2" x2="690.8" y1="1549.2" y2="1549.2" stroke="#e9e9e9" stroke-width="1.6"/>
<line x1="411.2" x2="690.8" y1="1569.5" y2="1569.5" stroke="#e9e9e9" stroke-width="1.6"/>
<line x1="411.2" x2="690.8" y1="1589.7" y2="1589.7" stroke="#e9e9e9" stroke-width="1.6"/>
<line x1="411.2" x2="690.8" y1="1610.0" y2="1610.0" stroke="#e9e9e9" stroke-width="1.6"/>
<line x1="411.2" x2="690.8" y1="1630.2" y2="1630.2" stroke="#e9e9e9" stroke-width="1.6"/>
<line x1="411.2" x2="690.8" y1="1650.4" y2="1650.4" stroke="#e9e9e9" stroke-width="1.6"/>
<line x1="411.2" x2="690.8" y1="1670.7" y2="1670.7" stroke="#e9e9e9" stroke-width="1.6"/>
<line x1="411.2" x2="690.8" y1="1690.9" y2="1690.9" stroke="#e9e9e9" stroke-width="1.6"/>
<line x1="411.2" x2="690.8" y1="1711.2" y2="1711.2" stroke="#e9e9e9" stroke-width="1.6"/>
<rect x="703.7" y="990.7" width="279.3" height="732.1" fill="#fff"/>
<line x1="785.3" x2="785.3" y1="990.7" y2="1722.8" stroke="#ececec" stroke-width="1.2"/>
<line x1="873.5" x2="873.5" y1="990.7" y2="1722.8" stroke="#ececec" stroke-width="1.2"/>
<line x1="961.7" x2="961.7" y1="990.7" y2="1722.8" stroke="#ececec" stroke-width="1.2"/>
<line x1="741.2" x2="741.2" y1="990.7" y2="1722.8" stroke="#e9e9e9" stroke-width="1.6"/>
<line x1="829.4" x2="829.4" y1="990.7" y2="1722.8" stroke="#e9e9e9" stroke-width="1.6"/>
<line x1="917.6" x2="917.6" y1="990.7" y2="1722.8" stroke="#e9e9e9" stroke-width="1.6"/>
<line x1="703.7" x2="983" y1="1003.0" y2="1003.0" stroke="#e9e9e9" stroke-width="1.6"/>
<line x1="703.7" x2="983" y1="1023.0" y2="1023.0" stroke="#e9e9e9" stroke-width="1.6"/>
<line x1="703.7" x2="983" y1="1043.2" y2="1043.2" stroke="#e9e9e9" stroke-width="1.6"/>
<line x1="703.7" x2="983" y1="1063.5" y2="1063.5" stroke="#e9e9e9" stroke-width="1.6"/>
<line x1="703.7" x2="983" y1="1083.7" y2="1083.7" stroke="#e9e9e9" stroke-width="1.6"/>
<line x1="703.7" x2="983" y1="1104.0" y2="1104.0" stroke="#e9e9e9" stroke-width="1.6"/>
<line x1="703.7" x2="983" y1="1124.2" y2="1124.2" stroke="#e9e9e9" stroke-width="1.6"/>
<line x1="703.7" x2="983" y1="1144.4" y2="1144.4" stroke="#e9e9e9" stroke-width="1.6"/>
<line x1="703.7" x2="983" y1="1164.7" y2="1164.7" stroke="#e9e9e9" stroke-width="1.6"/>
<line x1="703.7" x2="983" y1="1184.9" y2="1184.9" stroke="#e9e9e9" stroke-width="1.6"/>
<line x1="703.7" x2="983" y1="1205.2" y2="1205.2" stroke="#e9e9e9" stroke-width="1.6"/>
<line x1="703.7" x2="983" y1="1225.4" y2="1225.4" stroke="#e9e9e9" stroke-width="1.6"/>
<line x1="703.7" x2="983" y1="1245.6" y2="1245.6" stroke="#e9e9e9" stroke-width="1.6"/>
<line x1="703.7" x2="983" y1="1265.9" y2="1265.9" stroke="#e9e9e9" stroke-width="1.6"/>
<line x1="703.7" x2="983" y1="1286.1" y2="1286.1" stroke="#e9e9e9" stroke-width="1.6"/>
<line x1="703.7" x2="983" y1="1306.4" y2="1306.4" stroke="#e9e9e9" stroke-width="1.6"/>
<line x1="703.7" x2="983" y1="1326.6" y2="1326.6" stroke="#e9e9e9" stroke-width="1.6"/>
<line x1="703.7" x2="983" y1="1346.8" y2="1346.8" stroke="#e9e9e9" stroke-width="1.6"/>
<line x1="703.7" x2="983" y1="1367.1" y2="1367.1" stroke="#e9e9e9" stroke-width="1.6"/>
<line x1="703.7" x2="983" y1="1387.3" y2="1387.3" stroke="#e9e9e9" stroke-width="1.6"/>
<line x1="703.7" x2="983" y1="1407.6" y2="1407.6" stroke="#e9e9e9" stroke-width="1.6"/>
<line x1="703.7" x2="983" y1="1427.8" y2="1427.8" stroke="#e9e9e9" stroke-width="1.6"/>
<line x1="703.7" x2="983" y1="1448.0" y2="1448.0" stroke="#e9e9e9" stroke-width="1.6"/>
<line x1="703.7" x2="983" y1="1468.3" y2="1468.3" stroke="#e9e9e9" stroke-width="1.6"/>
<line x1="703.7" x2="983" y1="1488.5" y2="1488.5" stroke="#e9e9e9" stroke-width="1.6"/>
<line x1="703.7" x2="983" y1="1508.8" y2="1508.8" stroke="#e9e9e9" stroke-width="1.6"/>
<line x1="703.7" x2="983" y1="1529.0" y2="1529.0" stroke="#e9e9e9" stroke-width="1.6"/>
<line x1="703.7" x2="983" y1="1549.2" y2="1549.2" stroke="#e9e9e9" stroke-width="1.6"/>
<line x1="703.7" x2="983" y1="1569.5" y2="1569.5" stroke="#e9e9e9" stroke-width="1.6"/>
<line x1="703.7" x2="983" y1="1589.7" y2="1589.7" stroke="#e9e9e9" stroke-width="1.6"/>
<line x1="703.7" x2="983" y1="1610.0" y2="1610.0" stroke="#e9e9e9" stroke-width="1.6"/>
<line x1="703.7" x2="983" y1="1630.2" y2="1630.2" stroke="#e9e9e9" stroke-width="1.6"/>
<line x1="703.7" x2="983" y1="1650.4" y2="1650.4" stroke="#e9e9e9" stroke-width="1.6"/>
<line x1="703.7" x2="983" y1="1670.7" y2="1670.7" stroke="#e9e9e9" stroke-width="1.6"/>
<line x1="703.7" x2="983" y1="1690.9" y2="1690.9" stroke="#e9e9e9" stroke-width="1.6"/>
<line x1="703.7" x2="983" y1="1711.2" y2="1711.2" stroke="#e9e9e9" stroke-width="1.6"/>
<circle cx="678.6" cy="1023.0" r="11.80" fill="#c5008f"/>
<circle cx="640" cy="1043.2" r="10.80" fill="#ff0000"/>
<circle cx="638.7" cy="1063.5" r="10.80" fill="#ff0000"/>
<circle cx="622.2" cy="1083.7" r="10.40" fill="#7900dd"/>
<circle cx="622.2" cy="1104.0" r="10.40" fill="#e00060"/>
<circle cx="614.8" cy="1124.2" r="10.50" fill="#f80024"/>
<circle cx="605.6" cy="1144.4" r="10.15" fill="#9a00c3"/>
<circle cx="604.5" cy="1164.7" r="10.10" fill="#7c00da"/>
<circle cx="603.2" cy="1184.9" r="10.10" fill="#ff0000"/>
<circle cx="596.6" cy="1205.2" r="10.00" fill="#ff0000"/>
<circle cx="593" cy="1225.4" r="9.80" fill="#d8006f"/>
<circle cx="588.4" cy="1245.6" r="9.70" fill="#ff0000"/>
<circle cx="581.5" cy="1265.9" r="9.60" fill="#f20037"/>
<circle cx="581.5" cy="1286.1" r="9.60" fill="#cf007f"/>
<circle cx="569.5" cy="1306.4" r="9.45" fill="#a600b7"/>
<circle cx="569.5" cy="1326.6" r="9.45" fill="#ff0000"/>
<circle cx="558" cy="1346.8" r="9.00" fill="#d8006f"/>
<circle cx="849.1" cy="1367.1" r="9.25" fill="#f6002a"/>
<circle cx="550.5" cy="1387.3" r="9.00" fill="#ff0000"/>
<circle cx="540.5" cy="1407.6" r="8.60" fill="#f6002a"/>
<circle cx="540.1" cy="1427.8" r="8.50" fill="#ff0000"/>
<circle cx="818" cy="1448.0" r="8.25" fill="#f6002a"/>
<circle cx="515.5" cy="1468.3" r="8.05" fill="#ff0000"/>
<circle cx="511.7" cy="1488.5" r="8.05" fill="#0000ff"/>
<circle cx="507.5" cy="1508.8" r="7.95" fill="#aa00b2"/>
<circle cx="498.3" cy="1529.0" r="7.50" fill="#ff0000"/>
<circle cx="497.8" cy="1549.2" r="7.55" fill="#ff0000"/>
<circle cx="788.6" cy="1569.5" r="7.40" fill="#ea004b"/>
<circle cx="779.8" cy="1589.7" r="6.95" fill="#9a00c3"/>
<circle cx="486.5" cy="1610.0" r="7.25" fill="#e80050"/>
<circle cx="774.1" cy="1630.2" r="7.05" fill="#e50056"/>
<circle cx="480.8" cy="1650.4" r="6.95" fill="#ff0000"/>
<circle cx="457.2" cy="1670.7" r="5.85" fill="#fb001a"/>
<circle cx="454.8" cy="1690.9" r="5.75" fill="#d1007d"/>
<circle cx="423.3" cy="1711.2" r="2.90" fill="#a200bb"/>
<rect x="411.2" y="990.7" width="279.6" height="732.1" fill="none" stroke="#333" stroke-width="1.7"/>
<rect x="411.2" y="956.2" width="279.6" height="34.5" fill="#d9d9d9" stroke="#444" stroke-width="1.4"/>
<text x="551.0" y="980.5" text-anchor="middle" font-family="DejaVu Sans Condensed, DejaVu Sans, Tahoma, sans-serif" font-size="19.7" fill="#1a1a1a">DOWN-reg</text>
<line x1="448.8" x2="448.8" y1="1722.8" y2="1728.8" stroke="#2a2a2a" stroke-width="1.7"/>
<text x="448.8" y="1747.6" text-anchor="middle" font-family="Liberation Sans, Arial, sans-serif" font-size="18" fill="#4d4d4d">0.2</text>
<line x1="537.2" x2="537.2" y1="1722.8" y2="1728.8" stroke="#2a2a2a" stroke-width="1.7"/>
<text x="537.2" y="1747.6" text-anchor="middle" font-family="Liberation Sans, Arial, sans-serif" font-size="18" fill="#4d4d4d">0.4</text>
<line x1="625.6" x2="625.6" y1="1722.8" y2="1728.8" stroke="#2a2a2a" stroke-width="1.7"/>
<text x="625.6" y="1747.6" text-anchor="middle" font-family="Liberation Sans, Arial, sans-serif" font-size="18" fill="#4d4d4d">0.6</text>
<rect x="703.7" y="990.7" width="279.3" height="732.1" fill="none" stroke="#333" stroke-width="1.7"/>
<rect x="703.7" y="956.2" width="279.3" height="34.5" fill="#d9d9d9" stroke="#444" stroke-width="1.4"/>
<text x="843.4" y="980.5" text-anchor="middle" font-family="DejaVu Sans Condensed, DejaVu Sans, Tahoma, sans-serif" font-size="19.7" fill="#1a1a1a">UP-reg</text>
<line x1="741.2" x2="741.2" y1="1722.8" y2="1728.8" stroke="#2a2a2a" stroke-width="1.7"/>
<text x="741.2" y="1747.6" text-anchor="middle" font-family="Liberation Sans, Arial, sans-serif" font-size="18" fill="#4d4d4d">0.2</text>
<line x1="829.4" x2="829.4" y1="1722.8" y2="1728.8" stroke="#2a2a2a" stroke-width="1.7"/>
<text x="829.4" y="1747.6" text-anchor="middle" font-family="Liberation Sans, Arial, sans-serif" font-size="18" fill="#4d4d4d">0.4</text>
<line x1="917.6" x2="917.6" y1="1722.8" y2="1728.8" stroke="#2a2a2a" stroke-width="1.7"/>
<text x="917.6" y="1747.6" text-anchor="middle" font-family="Liberation Sans, Arial, sans-serif" font-size="18" fill="#4d4d4d">0.6</text>
<line x1="404.9" x2="411.2" y1="1003.0" y2="1003.0" stroke="#2a2a2a" stroke-width="1.9"/>
<line x1="404.9" x2="411.2" y1="1023.0" y2="1023.0" stroke="#2a2a2a" stroke-width="1.9"/>
<line x1="404.9" x2="411.2" y1="1043.2" y2="1043.2" stroke="#2a2a2a" stroke-width="1.9"/>
<line x1="404.9" x2="411.2" y1="1063.5" y2="1063.5" stroke="#2a2a2a" stroke-width="1.9"/>
<line x1="404.9" x2="411.2" y1="1083.7" y2="1083.7" stroke="#2a2a2a" stroke-width="1.9"/>
<line x1="404.9" x2="411.2" y1="1104.0" y2="1104.0" stroke="#2a2a2a" stroke-width="1.9"/>
<line x1="404.9" x2="411.2" y1="1124.2" y2="1124.2" stroke="#2a2a2a" stroke-width="1.9"/>
<line x1="404.9" x2="411.2" y1="1144.4" y2="1144.4" stroke="#2a2a2a" stroke-width="1.9"/>
<line x1="404.9" x2="411.2" y1="1164.7" y2="1164.7" stroke="#2a2a2a" stroke-width="1.9"/>
<line x1="404.9" x2="411.2" y1="1184.9" y2="1184.9" stroke="#2a2a2a" stroke-width="1.9"/>
<line x1="404.9" x2="411.2" y1="1205.2" y2="1205.2" stroke="#2a2a2a" stroke-width="1.9"/>
<line x1="404.9" x2="411.2" y1="1225.4" y2="1225.4" stroke="#2a2a2a" stroke-width="1.9"/>
<line x1="404.9" x2="411.2" y1="1245.6" y2="1245.6" stroke="#2a2a2a" stroke-width="1.9"/>
<line x1="404.9" x2="411.2" y1="1265.9" y2="1265.9" stroke="#2a2a2a" stroke-width="1.9"/>
<line x1="404.9" x2="411.2" y1="1286.1" y2="1286.1" stroke="#2a2a2a" stroke-width="1.9"/>
<line x1="404.9" x2="411.2" y1="1306.4" y2="1306.4" stroke="#2a2a2a" stroke-width="1.9"/>
<line x1="404.9" x2="411.2" y1="1326.6" y2="1326.6" stroke="#2a2a2a" stroke-width="1.9"/>
<line x1="404.9" x2="411.2" y1="1346.8" y2="1346.8" stroke="#2a2a2a" stroke-width="1.9"/>
<line x1="404.9" x2="411.2" y1="1367.1" y2="1367.1" stroke="#2a2a2a" stroke-width="1.9"/>
<line x1="404.9" x2="411.2" y1="1387.3" y2="1387.3" stroke="#2a2a2a" stroke-width="1.9"/>
<line x1="404.9" x2="411.2" y1="1407.6" y2="1407.6" stroke="#2a2a2a" stroke-width="1.9"/>
<line x1="404.9" x2="411.2" y1="1427.8" y2="1427.8" stroke="#2a2a2a" stroke-width="1.9"/>
<line x1="404.9" x2="411.2" y1="1448.0" y2="1448.0" stroke="#2a2a2a" stroke-width="1.9"/>
<line x1="404.9" x2="411.2" y1="1468.3" y2="1468.3" stroke="#2a2a2a" stroke-width="1.9"/>
<line x1="404.9" x2="411.2" y1="1488.5" y2="1488.5" stroke="#2a2a2a" stroke-width="1.9"/>
<line x1="404.9" x2="411.2" y1="1508.8" y2="1508.8" stroke="#2a2a2a" stroke-width="1.9"/>
<line x1="404.9" x2="411.2" y1="1529.0" y2="1529.0" stroke="#2a2a2a" stroke-width="1.9"/>
<line x1="404.9" x2="411.2" y1="1549.2" y2="1549.2" stroke="#2a2a2a" stroke-width="1.9"/>
<line x1="404.9" x2="411.2" y1="1569.5" y2="1569.5" stroke="#2a2a2a" stroke-width="1.9"/>
<line x1="404.9" x2="411.2" y1="1589.7" y2="1589.7" stroke="#2a2a2a" stroke-width="1.9"/>
<line x1="404.9" x2="411.2" y1="1610.0" y2="1610.0" stroke="#2a2a2a" stroke-width="1.9"/>
<line x1="404.9" x2="411.2" y1="1630.2" y2="1630.2" stroke="#2a2a2a" stroke-width="1.9"/>
<line x1="404.9" x2="411.2" y1="1650.4" y2="1650.4" stroke="#2a2a2a" stroke-width="1.9"/>
<line x1="404.9" x2="411.2" y1="1670.7" y2="1670.7" stroke="#2a2a2a" stroke-width="1.9"/>
<line x1="404.9" x2="411.2" y1="1690.9" y2="1690.9" stroke="#2a2a2a" stroke-width="1.9"/>
<line x1="404.9" x2="411.2" y1="1711.2" y2="1711.2" stroke="#2a2a2a" stroke-width="1.9"/>
<text x="399.3" y="1029.5" text-anchor="end" font-family="Liberation Sans, Arial, sans-serif" font-size="18.6" fill="#404040">Proteasome</text>
<text x="399.3" y="1049.7" text-anchor="end" font-family="Liberation Sans, Arial, sans-serif" font-size="18.6" fill="#d9000d">Ribosome</text>
<text x="399.3" y="1070.0" text-anchor="end" font-family="Liberation Sans, Arial, sans-serif" font-size="18.6" fill="#d9000d">Glycine, serine and threonine metabolism</text>
<text x="399.3" y="1090.2" text-anchor="end" font-family="Liberation Sans, Arial, sans-serif" font-size="18.6" fill="#404040">RNA polymerase</text>
<text x="399.3" y="1110.5" text-anchor="end" font-family="Liberation Sans, Arial, sans-serif" font-size="18.6" fill="#404040">Ascorbate and aldarate metabolism</text>
<text x="399.3" y="1130.7" text-anchor="end" font-family="Liberation Sans, Arial, sans-serif" font-size="18.6" fill="#d9000d">Valine, leucine and isoleucine degradation</text>
<text x="399.3" y="1150.9" text-anchor="end" font-family="Liberation Sans, Arial, sans-serif" font-size="18.6" fill="#404040">Retinol metabolism</text>
<text x="399.3" y="1171.2" text-anchor="end" font-family="Liberation Sans, Arial, sans-serif" font-size="18.6" fill="#404040">Aminoacyl-tRNA biosynthesis</text>
<text x="399.3" y="1191.4" text-anchor="end" font-family="Liberation Sans, Arial, sans-serif" font-size="18.6" fill="#d9000d">Other glycan degradation</text>
<text x="399.3" y="1211.7" text-anchor="end" font-family="Liberation Sans, Arial, sans-serif" font-size="18.6" fill="#d9000d">Pentose and glucuronate interconversions</text>
<text x="399.3" y="1231.9" text-anchor="end" font-family="Liberation Sans, Arial, sans-serif" font-size="18.6" fill="#404040">Tryptophan metabolism</text>
<text x="399.3" y="1252.1" text-anchor="end" font-family="Liberation Sans, Arial, sans-serif" font-size="18.6" fill="#d9000d">Fatty acid degradation</text>
<text x="399.3" y="1272.4" text-anchor="end" font-family="Liberation Sans, Arial, sans-serif" font-size="18.6" fill="#404040">One carbon pool by folate</text>
<text x="399.3" y="1292.6" text-anchor="end" font-family="Liberation Sans, Arial, sans-serif" font-size="18.6" fill="#404040">beta-Alanine metabolism</text>
<text x="399.3" y="1312.9" text-anchor="end" font-family="Liberation Sans, Arial, sans-serif" font-size="18.6" fill="#404040">Tyrosine metabolism</text>
<text x="399.3" y="1333.1" text-anchor="end" font-family="Liberation Sans, Arial, sans-serif" font-size="18.6" fill="#404040">Drug metabolism - cytochrome P450</text>
<text x="399.3" y="1353.3" text-anchor="end" font-family="Liberation Sans, Arial, sans-serif" font-size="18.6" fill="#404040">Porphyrin and chlorophyll metabolism</text>
<text x="399.3" y="1373.6" text-anchor="end" font-family="Liberation Sans, Arial, sans-serif" font-size="18.6" fill="#d9000d">Hippo signaling pathway - fly</text>
<text x="399.3" y="1393.8" text-anchor="end" font-family="Liberation Sans, Arial, sans-serif" font-size="18.6" fill="#d9000d">Drug metabolism - other enzymes</text>
<text x="399.3" y="1414.1" text-anchor="end" font-family="Liberation Sans, Arial, sans-serif" font-size="18.6" fill="#d9000d">Fatty acid metabolism</text>
<text x="399.3" y="1434.3" text-anchor="end" font-family="Liberation Sans, Arial, sans-serif" font-size="18.6" fill="#404040">Metabolism of xenobiotics by cytochrome P450</text>
<text x="399.3" y="1454.5" text-anchor="end" font-family="Liberation Sans, Arial, sans-serif" font-size="18.6" fill="#d9000d">Oxidative phosphorylation</text>
<text x="399.3" y="1474.8" text-anchor="end" font-family="Liberation Sans, Arial, sans-serif" font-size="18.6" fill="#d9000d">Galactose metabolism</text>
<text x="399.3" y="1495.0" text-anchor="end" font-family="Liberation Sans, Arial, sans-serif" font-size="18.6" fill="#404040">Folate biosynthesis</text>
<text x="399.3" y="1515.3" text-anchor="end" font-family="Liberation Sans, Arial, sans-serif" font-size="18.6" fill="#404040">Glyoxylate and dicarboxylate metabolism</text>
<text x="399.3" y="1535.5" text-anchor="end" font-family="Liberation Sans, Arial, sans-serif" font-size="18.6" fill="#d9000d">Lysosome</text>
<text x="399.3" y="1555.7" text-anchor="end" font-family="Liberation Sans, Arial, sans-serif" font-size="18.6" fill="#404040">Toll and Imd signaling pathway</text>
<text x="399.3" y="1576.0" text-anchor="end" font-family="Liberation Sans, Arial, sans-serif" font-size="18.6" fill="#404040">Circadian rhythm - fly</text>
<text x="399.3" y="1596.2" text-anchor="end" font-family="Liberation Sans, Arial, sans-serif" font-size="18.6" fill="#404040">Glycolysis / Gluconeogenesis</text>
<text x="399.3" y="1616.5" text-anchor="end" font-family="Liberation Sans, Arial, sans-serif" font-size="18.6" fill="#404040">Cysteine and methionine metabolism</text>
<text x="399.3" y="1636.7" text-anchor="end" font-family="Liberation Sans, Arial, sans-serif" font-size="18.6" fill="#404040">Citrate cycle (TCA cycle)</text>
<text x="399.3" y="1656.9" text-anchor="end" font-family="Liberation Sans, Arial, sans-serif" font-size="18.6" fill="#d9000d">Starch and sucrose metabolism</text>
<text x="399.3" y="1677.2" text-anchor="end" font-family="Liberation Sans, Arial, sans-serif" font-size="18.6" fill="#d9000d">Glutathione metabolism</text>
<text x="399.3" y="1697.4" text-anchor="end" font-family="Liberation Sans, Arial, sans-serif" font-size="18.6" fill="#404040">Arginine biosynthesis</text>
<text x="399.3" y="1717.7" text-anchor="end" font-family="Liberation Sans, Arial, sans-serif" font-size="18.6" fill="#404040">Neuroactive ligand-receptor interaction</text>
<text x="698" y="1765.8" text-anchor="middle" font-family="DejaVu Sans Condensed, DejaVu Sans, Tahoma, sans-serif" font-size="17.4" fill="#1a1a1a" letter-spacing="-0.2">Gene Ratio</text>
<text x="220.4" y="978.9" font-family="DejaVu Sans, Verdana, sans-serif" font-size="23" textLength="170.9" lengthAdjust="spacingAndGlyphs" fill="#4a4a4a">KEGG pathway</text>
<text x="560.9" y="942.5" font-family="DejaVu Sans, Verdana, sans-serif" font-size="31" font-weight="bold" font-style="italic" textLength="129.7" lengthAdjust="spacingAndGlyphs" fill="#3a3a3a" stroke="#3a3a3a" stroke-width="0.6">E(z)/w</text>
<text x="702.2" y="942.5" font-family="DejaVu Sans, Verdana, sans-serif" font-size="31" font-weight="bold" textLength="105.1" lengthAdjust="spacingAndGlyphs" fill="#3a3a3a" stroke="#3a3a3a" stroke-width="0.6">males</text>
<text transform="translate(0.8,926.2) scale(0.844,1)" x="0" y="0" font-family="Liberation Sans, Arial, sans-serif" font-size="65.6" font-weight="bold" fill="#000">c</text>
<rect x="1466" y="991.8" width="256.8" height="727.9" fill="#fff"/>
<line x1="1487.4" x2="1487.4" y1="991.8" y2="1719.7" stroke="#ececec" stroke-width="1.2"/>
<line x1="1557.0" x2="1557.0" y1="991.8" y2="1719.7" stroke="#ececec" stroke-width="1.2"/>
<line x1="1626.6" x2="1626.6" y1="991.8" y2="1719.7" stroke="#ececec" stroke-width="1.2"/>
<line x1="1696.2" x2="1696.2" y1="991.8" y2="1719.7" stroke="#ececec" stroke-width="1.2"/>
<line x1="1522.2" x2="1522.2" y1="991.8" y2="1719.7" stroke="#e9e9e9" stroke-width="1.6"/>
<line x1="1591.8" x2="1591.8" y1="991.8" y2="1719.7" stroke="#e9e9e9" stroke-width="1.6"/>
<line x1="1661.4" x2="1661.4" y1="991.8" y2="1719.7" stroke="#e9e9e9" stroke-width="1.6"/>
<line x1="1466" x2="1722.8" y1="1008.7" y2="1008.7" stroke="#e9e9e9" stroke-width="1.6"/>
<line x1="1466" x2="1722.8" y1="1036.8" y2="1036.8" stroke="#e9e9e9" stroke-width="1.6"/>
<line x1="1466" x2="1722.8" y1="1064.6" y2="1064.6" stroke="#e9e9e9" stroke-width="1.6"/>
<line x1="1466" x2="1722.8" y1="1092.3" y2="1092.3" stroke="#e9e9e9" stroke-width="1.6"/>
<line x1="1466" x2="1722.8" y1="1120.1" y2="1120.1" stroke="#e9e9e9" stroke-width="1.6"/>
<line x1="1466" x2="1722.8" y1="1147.9" y2="1147.9" stroke="#e9e9e9" stroke-width="1.6"/>
<line x1="1466" x2="1722.8" y1="1175.7" y2="1175.7" stroke="#e9e9e9" stroke-width="1.6"/>
<line x1="1466" x2="1722.8" y1="1203.4" y2="1203.4" stroke="#e9e9e9" stroke-width="1.6"/>
<line x1="1466" x2="1722.8" y1="1231.2" y2="1231.2" stroke="#e9e9e9" stroke-width="1.6"/>
<line x1="1466" x2="1722.8" y1="1259.0" y2="1259.0" stroke="#e9e9e9" stroke-width="1.6"/>
<line x1="1466" x2="1722.8" y1="1286.8" y2="1286.8" stroke="#e9e9e9" stroke-width="1.6"/>
<line x1="1466" x2="1722.8" y1="1314.5" y2="1314.5" stroke="#e9e9e9" stroke-width="1.6"/>
<line x1="1466" x2="1722.8" y1="1342.3" y2="1342.3" stroke="#e9e9e9" stroke-width="1.6"/>
<line x1="1466" x2="1722.8" y1="1370.1" y2="1370.1" stroke="#e9e9e9" stroke-width="1.6"/>
<line x1="1466" x2="1722.8" y1="1397.9" y2="1397.9" stroke="#e9e9e9" stroke-width="1.6"/>
<line x1="1466" x2="1722.8" y1="1425.6" y2="1425.6" stroke="#e9e9e9" stroke-width="1.6"/>
<line x1="1466" x2="1722.8" y1="1453.4" y2="1453.4" stroke="#e9e9e9" stroke-width="1.6"/>
<line x1="1466" x2="1722.8" y1="1481.2" y2="1481.2" stroke="#e9e9e9" stroke-width="1.6"/>
<line x1="1466" x2="1722.8" y1="1509.0" y2="1509.0" stroke="#e9e9e9" stroke-width="1.6"/>
<line x1="1466" x2="1722.8" y1="1536.8" y2="1536.8" stroke="#e9e9e9" stroke-width="1.6"/>
<line x1="1466" x2="1722.8" y1="1564.5" y2="1564.5" stroke="#e9e9e9" stroke-width="1.6"/>
<line x1="1466" x2="1722.8" y1="1592.3" y2="1592.3" stroke="#e9e9e9" stroke-width="1.6"/>
<line x1="1466" x2="1722.8" y1="1620.1" y2="1620.1" stroke="#e9e9e9" stroke-width="1.6"/>
<line x1="1466" x2="1722.8" y1="1647.8" y2="1647.8" stroke="#e9e9e9" stroke-width="1.6"/>
<line x1="1466" x2="1722.8" y1="1675.6" y2="1675.6" stroke="#e9e9e9" stroke-width="1.6"/>
<line x1="1466" x2="1722.8" y1="1703.4" y2="1703.4" stroke="#e9e9e9" stroke-width="1.6"/>
<rect x="1735.4" y="991.8" width="257.1" height="727.9" fill="#fff"/>
<line x1="1756.7" x2="1756.7" y1="991.8" y2="1719.7" stroke="#ececec" stroke-width="1.2"/>
<line x1="1826.5" x2="1826.5" y1="991.8" y2="1719.7" stroke="#ececec" stroke-width="1.2"/>
<line x1="1896.3" x2="1896.3" y1="991.8" y2="1719.7" stroke="#ececec" stroke-width="1.2"/>
<line x1="1966.1" x2="1966.1" y1="991.8" y2="1719.7" stroke="#ececec" stroke-width="1.2"/>
<line x1="1791.6" x2="1791.6" y1="991.8" y2="1719.7" stroke="#e9e9e9" stroke-width="1.6"/>
<line x1="1861.4" x2="1861.4" y1="991.8" y2="1719.7" stroke="#e9e9e9" stroke-width="1.6"/>
<line x1="1931.2" x2="1931.2" y1="991.8" y2="1719.7" stroke="#e9e9e9" stroke-width="1.6"/>
<line x1="1735.4" x2="1992.5" y1="1008.7" y2="1008.7" stroke="#e9e9e9" stroke-width="1.6"/>
<line x1="1735.4" x2="1992.5" y1="1036.8" y2="1036.8" stroke="#e9e9e9" stroke-width="1.6"/>
<line x1="1735.4" x2="1992.5" y1="1064.6" y2="1064.6" stroke="#e9e9e9" stroke-width="1.6"/>
<line x1="1735.4" x2="1992.5" y1="1092.3" y2="1092.3" stroke="#e9e9e9" stroke-width="1.6"/>
<line x1="1735.4" x2="1992.5" y1="1120.1" y2="1120.1" stroke="#e9e9e9" stroke-width="1.6"/>
<line x1="1735.4" x2="1992.5" y1="1147.9" y2="1147.9" stroke="#e9e9e9" stroke-width="1.6"/>
<line x1="1735.4" x2="1992.5" y1="1175.7" y2="1175.7" stroke="#e9e9e9" stroke-width="1.6"/>
<line x1="1735.4" x2="1992.5" y1="1203.4" y2="1203.4" stroke="#e9e9e9" stroke-width="1.6"/>
<line x1="1735.4" x2="1992.5" y1="1231.2" y2="1231.2" stroke="#e9e9e9" stroke-width="1.6"/>
<line x1="1735.4" x2="1992.5" y1="1259.0" y2="1259.0" stroke="#e9e9e9" stroke-width="1.6"/>
<line x1="1735.4" x2="1992.5" y1="1286.8" y2="1286.8" stroke="#e9e9e9" stroke-width="1.6"/>
<line x1="1735.4" x2="1992.5" y1="1314.5" y2="1314.5" stroke="#e9e9e9" stroke-width="1.6"/>
<line x1="1735.4" x2="1992.5" y1="1342.3" y2="1342.3" stroke="#e9e9e9" stroke-width="1.6"/>
<line x1="1735.4" x2="1992.5" y1="1370.1" y2="1370.1" stroke="#e9e9e9" stroke-width="1.6"/>
<line x1="1735.4" x2="1992.5" y1="1397.9" y2="1397.9" stroke="#e9e9e9" stroke-width="1.6"/>
<line x1="1735.4" x2="1992.5" y1="1425.6" y2="1425.6" stroke="#e9e9e9" stroke-width="1.6"/>
<line x1="1735.4" x2="1992.5" y1="1453.4" y2="1453.4" stroke="#e9e9e9" stroke-width="1.6"/>
<line x1="1735.4" x2="1992.5" y1="1481.2" y2="1481.2" stroke="#e9e9e9" stroke-width="1.6"/>
<line x1="1735.4" x2="1992.5" y1="1509.0" y2="1509.0" stroke="#e9e9e9" stroke-width="1.6"/>
<line x1="1735.4" x2="1992.5" y1="1536.8" y2="1536.8" stroke="#e9e9e9" stroke-width="1.6"/>
<line x1="1735.4" x2="1992.5" y1="1564.5" y2="1564.5" stroke="#e9e9e9" stroke-width="1.6"/>
<line x1="1735.4" x2="1992.5" y1="1592.3" y2="1592.3" stroke="#e9e9e9" stroke-width="1.6"/>
<line x1="1735.4" x2="1992.5" y1="1620.1" y2="1620.1" stroke="#e9e9e9" stroke-width="1.6"/>
<line x1="1735.4" x2="1992.5" y1="1647.8" y2="1647.8" stroke="#e9e9e9" stroke-width="1.6"/>
<line x1="1735.4" x2="1992.5" y1="1675.6" y2="1675.6" stroke="#e9e9e9" stroke-width="1.6"/>
<line x1="1735.4" x2="1992.5" y1="1703.4" y2="1703.4" stroke="#e9e9e9" stroke-width="1.6"/>
<circle cx="1980.5" cy="1036.8" r="11.00" fill="#f6002a"/>
<circle cx="1963.3" cy="1064.6" r="10.90" fill="#ff0000"/>
<circle cx="1960.5" cy="1092.3" r="11.00" fill="#e00060"/>
<circle cx="1959" cy="1120.1" r="10.90" fill="#ff0000"/>
<circle cx="1685" cy="1147.9" r="10.90" fill="#ff0000"/>
<circle cx="1946.1" cy="1175.7" r="10.75" fill="#d30079"/>
<circle cx="1671.9" cy="1203.4" r="10.60" fill="#9500c7"/>
<circle cx="1644.1" cy="1231.2" r="10.00" fill="#aa00b2"/>
<circle cx="1640.4" cy="1259.0" r="10.00" fill="#ff0000"/>
<circle cx="1636.1" cy="1286.8" r="9.75" fill="#f1003a"/>
<circle cx="1890.6" cy="1314.5" r="9.45" fill="#a200bb"/>
<circle cx="1888" cy="1342.3" r="9.45" fill="#ff0000"/>
<circle cx="1880.6" cy="1370.1" r="9.15" fill="#ea004b"/>
<circle cx="1876.9" cy="1397.9" r="9.00" fill="#e50056"/>
<circle cx="1871.4" cy="1425.6" r="8.85" fill="#ce0082"/>
<circle cx="1838.2" cy="1453.4" r="8.00" fill="#dc0069"/>
<circle cx="1831.9" cy="1481.2" r="7.85" fill="#fb001a"/>
<circle cx="1825.1" cy="1509.0" r="7.60" fill="#0000ff"/>
<circle cx="1821.3" cy="1536.8" r="7.45" fill="#ba009f"/>
<circle cx="1818.2" cy="1564.5" r="7.45" fill="#ff0000"/>
<circle cx="1802.2" cy="1592.3" r="7.00" fill="#ba009f"/>
<circle cx="1514.7" cy="1620.1" r="6.30" fill="#f6002a"/>
<circle cx="1513.9" cy="1647.8" r="6.00" fill="#ff0000"/>
<circle cx="1772.4" cy="1675.6" r="5.60" fill="#e50056"/>
<circle cx="1476.6" cy="1703.4" r="2.85" fill="#ef003f"/>
<rect x="1466" y="991.8" width="256.8" height="727.9" fill="none" stroke="#333" stroke-width="1.3"/>
<rect x="1466" y="957.7" width="256.8" height="34.1" fill="#d9d9d9" stroke="#444" stroke-width="1.0"/>
<text x="1594.4" y="981.8" text-anchor="middle" font-family="DejaVu Sans Condensed, DejaVu Sans, Tahoma, sans-serif" font-size="19.3" fill="#1a1a1a">DOWN-reg</text>
<line x1="1522.2" x2="1522.2" y1="1719.7" y2="1725.7" stroke="#2a2a2a" stroke-width="1.3"/>
<text x="1522.2" y="1744.4" text-anchor="middle" font-family="Liberation Sans, Arial, sans-serif" font-size="18" fill="#4d4d4d">0.2</text>
<line x1="1591.8" x2="1591.8" y1="1719.7" y2="1725.7" stroke="#2a2a2a" stroke-width="1.3"/>
<text x="1591.8" y="1744.4" text-anchor="middle" font-family="Liberation Sans, Arial, sans-serif" font-size="18" fill="#4d4d4d">0.4</text>
<line x1="1661.4" x2="1661.4" y1="1719.7" y2="1725.7" stroke="#2a2a2a" stroke-width="1.3"/>
<text x="1661.4" y="1744.4" text-anchor="middle" font-family="Liberation Sans, Arial, sans-serif" font-size="18" fill="#4d4d4d">0.6</text>
<rect x="1735.4" y="991.8" width="257.1" height="727.9" fill="none" stroke="#333" stroke-width="1.3"/>
<rect x="1735.4" y="957.7" width="257.1" height="34.1" fill="#d9d9d9" stroke="#444" stroke-width="1.0"/>
<text x="1864.0" y="981.8" text-anchor="middle" font-family="DejaVu Sans Condensed, DejaVu Sans, Tahoma, sans-serif" font-size="19.3" fill="#1a1a1a">UP-reg</text>
<line x1="1791.6" x2="1791.6" y1="1719.7" y2="1725.7" stroke="#2a2a2a" stroke-width="1.3"/>
<text x="1791.6" y="1744.4" text-anchor="middle" font-family="Liberation Sans, Arial, sans-serif" font-size="18" fill="#4d4d4d">0.2</text>
<line x1="1861.4" x2="1861.4" y1="1719.7" y2="1725.7" stroke="#2a2a2a" stroke-width="1.3"/>
<text x="1861.4" y="1744.4" text-anchor="middle" font-family="Liberation Sans, Arial, sans-serif" font-size="18" fill="#4d4d4d">0.4</text>
<line x1="1931.2" x2="1931.2" y1="1719.7" y2="1725.7" stroke="#2a2a2a" stroke-width="1.3"/>
<text x="1931.2" y="1744.4" text-anchor="middle" font-family="Liberation Sans, Arial, sans-serif" font-size="18" fill="#4d4d4d">0.6</text>
<line x1="1459.7" x2="1466" y1="1008.7" y2="1008.7" stroke="#2a2a2a" stroke-width="1.5"/>
<line x1="1459.7" x2="1466" y1="1036.8" y2="1036.8" stroke="#2a2a2a" stroke-width="1.5"/>
<line x1="1459.7" x2="1466" y1="1064.6" y2="1064.6" stroke="#2a2a2a" stroke-width="1.5"/>
<line x1="1459.7" x2="1466" y1="1092.3" y2="1092.3" stroke="#2a2a2a" stroke-width="1.5"/>
<line x1="1459.7" x2="1466" y1="1120.1" y2="1120.1" stroke="#2a2a2a" stroke-width="1.5"/>
<line x1="1459.7" x2="1466" y1="1147.9" y2="1147.9" stroke="#2a2a2a" stroke-width="1.5"/>
<line x1="1459.7" x2="1466" y1="1175.7" y2="1175.7" stroke="#2a2a2a" stroke-width="1.5"/>
<line x1="1459.7" x2="1466" y1="1203.4" y2="1203.4" stroke="#2a2a2a" stroke-width="1.5"/>
<line x1="1459.7" x2="1466" y1="1231.2" y2="1231.2" stroke="#2a2a2a" stroke-width="1.5"/>
<line x1="1459.7" x2="1466" y1="1259.0" y2="1259.0" stroke="#2a2a2a" stroke-width="1.5"/>
<line x1="1459.7" x2="1466" y1="1286.8" y2="1286.8" stroke="#2a2a2a" stroke-width="1.5"/>
<line x1="1459.7" x2="1466" y1="1314.5" y2="1314.5" stroke="#2a2a2a" stroke-width="1.5"/>
<line x1="1459.7" x2="1466" y1="1342.3" y2="1342.3" stroke="#2a2a2a" stroke-width="1.5"/>
<line x1="1459.7" x2="1466" y1="1370.1" y2="1370.1" stroke="#2a2a2a" stroke-width="1.5"/>
<line x1="1459.7" x2="1466" y1="1397.9" y2="1397.9" stroke="#2a2a2a" stroke-width="1.5"/>
<line x1="1459.7" x2="1466" y1="1425.6" y2="1425.6" stroke="#2a2a2a" stroke-width="1.5"/>
<line x1="1459.7" x2="1466" y1="1453.4" y2="1453.4" stroke="#2a2a2a" stroke-width="1.5"/>
<line x1="1459.7" x2="1466" y1="1481.2" y2="1481.2" stroke="#2a2a2a" stroke-width="1.5"/>
<line x1="1459.7" x2="1466" y1="1509.0" y2="1509.0" stroke="#2a2a2a" stroke-width="1.5"/>
<line x1="1459.7" x2="1466" y1="1536.8" y2="1536.8" stroke="#2a2a2a" stroke-width="1.5"/>
<line x1="1459.7" x2="1466" y1="1564.5" y2="1564.5" stroke="#2a2a2a" stroke-width="1.5"/>
<line x1="1459.7" x2="1466" y1="1592.3" y2="1592.3" stroke="#2a2a2a" stroke-width="1.5"/>
<line x1="1459.7" x2="1466" y1="1620.1" y2="1620.1" stroke="#2a2a2a" stroke-width="1.5"/>
<line x1="1459.7" x2="1466" y1="1647.8" y2="1647.8" stroke="#2a2a2a" stroke-width="1.5"/>
<line x1="1459.7" x2="1466" y1="1675.6" y2="1675.6" stroke="#2a2a2a" stroke-width="1.5"/>
<line x1="1459.7" x2="1466" y1="1703.4" y2="1703.4" stroke="#2a2a2a" stroke-width="1.5"/>
<text x="1454.3" y="1044.6" text-anchor="end" font-family="Liberation Sans, Arial, sans-serif" font-size="18.5" fill="#d9000d">Cysteine and methionine metabolism</text>
<text x="1454.3" y="1072.4" text-anchor="end" font-family="Liberation Sans, Arial, sans-serif" font-size="18.5" fill="#d9000d">Oxidative phosphorylation</text>
<text x="1454.3" y="1100.1" text-anchor="end" font-family="Liberation Sans, Arial, sans-serif" font-size="18.5" fill="#454545">Pentose phosphate pathway</text>
<text x="1454.3" y="1127.9" text-anchor="end" font-family="Liberation Sans, Arial, sans-serif" font-size="18.5" fill="#d9000d">Citrate cycle (TCA cycle)</text>
<text x="1454.3" y="1155.7" text-anchor="end" font-family="Liberation Sans, Arial, sans-serif" font-size="18.5" fill="#d9000d">DNA replication</text>
<text x="1454.3" y="1183.5" text-anchor="end" font-family="Liberation Sans, Arial, sans-serif" font-size="18.5" fill="#454545">2-Oxocarboxylic acid metabolism</text>
<text x="1454.3" y="1211.2" text-anchor="end" font-family="Liberation Sans, Arial, sans-serif" font-size="18.5" fill="#454545">Nucleotide excision repair</text>
<text x="1454.3" y="1239.0" text-anchor="end" font-family="Liberation Sans, Arial, sans-serif" font-size="18.5" fill="#454545">Glycosylphosphatidylinositol (GPI)-anchor biosynthesis</text>
<text x="1454.3" y="1266.8" text-anchor="end" font-family="Liberation Sans, Arial, sans-serif" font-size="18.5" fill="#d9000d">Fanconi anemia pathway</text>
<text x="1454.3" y="1294.6" text-anchor="end" font-family="Liberation Sans, Arial, sans-serif" font-size="18.5" fill="#454545">Mismatch repair</text>
<text x="1454.3" y="1322.3" text-anchor="end" font-family="Liberation Sans, Arial, sans-serif" font-size="18.5" fill="#454545">Ribosome biogenesis in eukaryotes</text>
<text x="1454.3" y="1350.1" text-anchor="end" font-family="Liberation Sans, Arial, sans-serif" font-size="18.5" fill="#d9000d">Carbon metabolism</text>
<text x="1454.3" y="1377.9" text-anchor="end" font-family="Liberation Sans, Arial, sans-serif" font-size="18.5" fill="#454545">Fatty acid biosynthesis</text>
<text x="1454.3" y="1405.7" text-anchor="end" font-family="Liberation Sans, Arial, sans-serif" font-size="18.5" fill="#454545">Purine metabolism</text>
<text x="1454.3" y="1433.4" text-anchor="end" font-family="Liberation Sans, Arial, sans-serif" font-size="18.5" fill="#454545">Fructose and mannose metabolism</text>
<text x="1454.3" y="1461.2" text-anchor="end" font-family="Liberation Sans, Arial, sans-serif" font-size="18.5" fill="#454545">beta-Alanine metabolism</text>
<text x="1454.3" y="1489.0" text-anchor="end" font-family="Liberation Sans, Arial, sans-serif" font-size="18.5" fill="#d9000d">Peroxisome</text>
<text x="1454.3" y="1516.8" text-anchor="end" font-family="Liberation Sans, Arial, sans-serif" font-size="18.5" fill="#454545">Phototransduction - fly</text>
<text x="1454.3" y="1544.5" text-anchor="end" font-family="Liberation Sans, Arial, sans-serif" font-size="18.5" fill="#454545">Biosynthesis of unsaturated fatty acids</text>
<text x="1454.3" y="1572.3" text-anchor="end" font-family="Liberation Sans, Arial, sans-serif" font-size="18.5" fill="#d9000d">Fatty acid metabolism</text>
<text x="1454.3" y="1600.1" text-anchor="end" font-family="Liberation Sans, Arial, sans-serif" font-size="18.5" fill="#454545">Fatty acid elongation</text>
<text x="1454.3" y="1627.9" text-anchor="end" font-family="Liberation Sans, Arial, sans-serif" font-size="18.5" fill="#454545">Arginine and proline metabolism</text>
<text x="1454.3" y="1655.6" text-anchor="end" font-family="Liberation Sans, Arial, sans-serif" font-size="18.5" fill="#d9000d">Lysosome</text>
<text x="1454.3" y="1683.4" text-anchor="end" font-family="Liberation Sans, Arial, sans-serif" font-size="18.5" fill="#454545">Phagosome</text>
<text x="1454.3" y="1711.2" text-anchor="end" font-family="Liberation Sans, Arial, sans-serif" font-size="18.5" fill="#454545">Autophagy - animal</text>
<text x="1734.9" y="1762.9" text-anchor="middle" font-family="DejaVu Sans Condensed, DejaVu Sans, Tahoma, sans-serif" font-size="17.4" fill="#333">Gene Ratio</text>
<text x="1267.9" y="980.4" font-family="DejaVu Sans, Verdana, sans-serif" font-size="23.8" textLength="178.1" lengthAdjust="spacingAndGlyphs" fill="#2a2a2a">KEGG pathway</text>
<text x="1560" y="945.6" font-family="DejaVu Sans, Verdana, sans-serif" font-size="31" font-weight="bold" font-style="italic" textLength="129.8" lengthAdjust="spacingAndGlyphs" fill="#3a3a3a" stroke="#3a3a3a" stroke-width="0.6">E(z)/w</text>
<text x="1701.4" y="945.6" font-family="DejaVu Sans, Verdana, sans-serif" font-size="31" font-weight="bold" textLength="139.8" lengthAdjust="spacingAndGlyphs" fill="#3a3a3a" stroke="#3a3a3a" stroke-width="0.6">females</text>
<text transform="translate(997.5,927) scale(0.946,1)" x="0" y="0" font-family="Liberation Sans, Arial, sans-serif" font-size="69.3" font-weight="bold" fill="#000">d</text>
<text x="710.6" y="1895" font-family="DejaVu Sans Condensed, DejaVu Sans, Tahoma, sans-serif" font-size="31" textLength="153.3" lengthAdjust="spacingAndGlyphs" fill="#2b2b2b">Gene Ratio</text>
<circle cx="895.6" cy="1823" r="6.3" fill="#000"/>
<text x="923" y="1830.0" font-family="Liberation Sans, Arial, sans-serif" font-size="19.6" fill="#111">0.2</text>
<circle cx="895.6" cy="1842.5" r="7.95" fill="#000"/>
<text x="923" y="1849.5" font-family="Liberation Sans, Arial, sans-serif" font-size="19.6" fill="#111">0.3</text>
<circle cx="895.6" cy="1863" r="9.35" fill="#000"/>
<text x="923" y="1870.0" font-family="Liberation Sans, Arial, sans-serif" font-size="19.6" fill="#111">0.4</text>
<circle cx="895.6" cy="1886.1" r="10.65" fill="#000"/>
<text x="923" y="1893.1" font-family="Liberation Sans, Arial, sans-serif" font-size="19.6" fill="#111">0.5</text>
<circle cx="895.6" cy="1911.3" r="11.7" fill="#000"/>
<text x="923" y="1918.3" font-family="Liberation Sans, Arial, sans-serif" font-size="19.6" fill="#111">0.6</text>
<circle cx="895.6" cy="1939.4" r="12.45" fill="#000"/>
<text x="923" y="1946.4" font-family="Liberation Sans, Arial, sans-serif" font-size="19.6" fill="#111">0.7</text>
<text x="1116.2" y="1893.3" font-family="DejaVu Sans Condensed, DejaVu Sans, Tahoma, sans-serif" font-size="31.5" textLength="102.7" lengthAdjust="spacingAndGlyphs" fill="#111">p value</text>
<defs><linearGradient id="cb" x1="0" y1="0" x2="0" y2="1"><stop offset="0.00" stop-color="#0000ff"/><stop offset="0.05" stop-color="#4b00f3"/><stop offset="0.10" stop-color="#6800e7"/><stop offset="0.15" stop-color="#7c00da"/><stop offset="0.20" stop-color="#8d00ce"/><stop offset="0.25" stop-color="#9a00c3"/><stop offset="0.30" stop-color="#a600b7"/><stop offset="0.35" stop-color="#b000ab"/><stop offset="0.40" stop-color="#ba009f"/><stop offset="0.45" stop-color="#c20094"/><stop offset="0.50" stop-color="#ca0088"/><stop offset="0.55" stop-color="#d1007d"/><stop offset="0.60" stop-color="#d70072"/><stop offset="0.65" stop-color="#dd0066"/><stop offset="0.70" stop-color="#e3005b"/><stop offset="0.75" stop-color="#e80050"/><stop offset="0.80" stop-color="#ed0044"/><stop offset="0.85" stop-color="#f20037"/><stop offset="0.90" stop-color="#f6002a"/><stop offset="0.95" stop-color="#fb001a"/><stop offset="1.00" stop-color="#ff0000"/></linearGradient></defs>
<rect x="1238" y="1815.8" width="26" height="131.6" fill="url(#cb)"/>
<line x1="1238" x2="1242.5" y1="1841.4" y2="1841.4" stroke="#fff" stroke-width="1"/>
<line x1="1259.5" x2="1264" y1="1841.4" y2="1841.4" stroke="#fff" stroke-width="1"/>
<text x="1280" y="1850.4" font-family="Liberation Sans, Arial, sans-serif" font-size="25.4" fill="#111">0.04</text>
<line x1="1238" x2="1242.5" y1="1868" y2="1868" stroke="#fff" stroke-width="1"/>
<line x1="1259.5" x2="1264" y1="1868" y2="1868" stroke="#fff" stroke-width="1"/>
<text x="1280" y="1877.0" font-family="Liberation Sans, Arial, sans-serif" font-size="25.4" fill="#111">0.03</text>
<line x1="1238" x2="1242.5" y1="1895.1" y2="1895.1" stroke="#fff" stroke-width="1"/>
<line x1="1259.5" x2="1264" y1="1895.1" y2="1895.1" stroke="#fff" stroke-width="1"/>
<text x="1280" y="1904.1" font-family="Liberation Sans, Arial, sans-serif" font-size="25.4" fill="#111">0.02</text>
<line x1="1238" x2="1242.5" y1="1922.5" y2="1922.5" stroke="#fff" stroke-width="1"/>
<line x1="1259.5" x2="1264" y1="1922.5" y2="1922.5" stroke="#fff" stroke-width="1"/>
<text x="1280" y="1931.5" font-family="Liberation Sans, Arial, sans-serif" font-size="25.4" fill="#111">0.01</text>
<circle cx="1240.6" cy="1804.2" r="0.8" fill="#666"/>
</svg></body></html>
